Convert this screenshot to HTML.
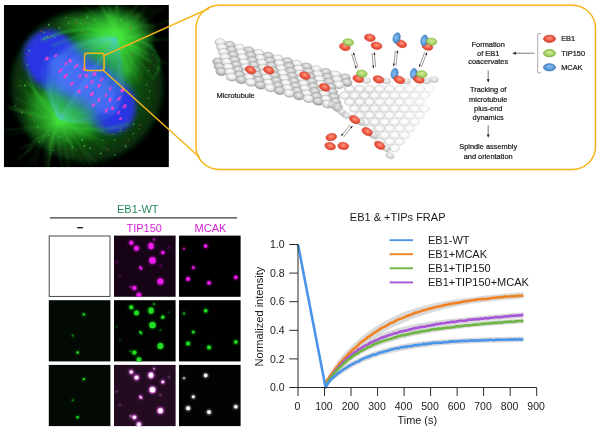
<!DOCTYPE html>
<html><head><meta charset="utf-8"><title>EB1 coacervates figure</title>
<style>
html,body{margin:0;padding:0;background:#fff;}
body{width:600px;height:432px;overflow:hidden;font-family:"Liberation Sans",sans-serif;}
svg{display:block;}
text{font-family:"Liberation Sans",sans-serif;}
</style></head><body>
<svg width="600" height="432" viewBox="0 0 600 432">
<rect width="600" height="432" fill="#fff"/>
<defs>
<clipPath id="cellclip"><rect x="3.8" y="5" width="165.1" height="162.3"/></clipPath>
<filter id="b1" x="-20%" y="-20%" width="140%" height="140%"><feGaussianBlur stdDeviation="0.8"/></filter>
<filter id="b06" x="-20%" y="-20%" width="140%" height="140%"><feGaussianBlur stdDeviation="0.6"/></filter>
<filter id="b2" x="-20%" y="-20%" width="140%" height="140%"><feGaussianBlur stdDeviation="2"/></filter>
<filter id="b3" x="-20%" y="-20%" width="140%" height="140%"><feGaussianBlur stdDeviation="3"/></filter>
<filter id="b5" x="-30%" y="-30%" width="160%" height="160%"><feGaussianBlur stdDeviation="5"/></filter>
<radialGradient id="cellbody" cx="50%" cy="50%" r="50%">
<stop offset="0" stop-color="#116a16"/><stop offset="0.5" stop-color="#0e5a13"/><stop offset="0.78" stop-color="#0a400d"/><stop offset="0.93" stop-color="#082e0a"/><stop offset="1" stop-color="#051c06"/></radialGradient>
<radialGradient id="pole" cx="50%" cy="50%" r="50%">
<stop offset="0" stop-color="#62fa4e" stop-opacity="1"/><stop offset="0.3" stop-color="#36dc30" stop-opacity="0.9"/><stop offset="0.65" stop-color="#22b422" stop-opacity="0.5"/><stop offset="1" stop-color="#149014" stop-opacity="0"/></radialGradient>
<radialGradient id="poleA" cx="50%" cy="50%" r="50%">
<stop offset="0" stop-color="#5af048" stop-opacity="1"/><stop offset="0.25" stop-color="#44dc3a" stop-opacity="0.95"/><stop offset="0.55" stop-color="#30bc30" stop-opacity="0.8"/><stop offset="0.8" stop-color="#229c26" stop-opacity="0.45"/><stop offset="1" stop-color="#148414" stop-opacity="0"/></radialGradient>
<radialGradient id="poleB" cx="50%" cy="50%" r="50%">
<stop offset="0" stop-color="#4ce03e" stop-opacity="0.95"/><stop offset="0.3" stop-color="#34c030" stop-opacity="0.8"/><stop offset="0.65" stop-color="#24a024" stop-opacity="0.45"/><stop offset="1" stop-color="#148414" stop-opacity="0"/></radialGradient>
<linearGradient id="spin" x1="0" y1="0" x2="0" y2="1">
<stop offset="0" stop-color="#30d830" stop-opacity="0.9"/><stop offset="0.18" stop-color="#2cc850" stop-opacity="0.6"/><stop offset="0.33" stop-color="#4090f0" stop-opacity="0.32"/><stop offset="0.5" stop-color="#4c84ff" stop-opacity="0.3"/><stop offset="0.67" stop-color="#4090f0" stop-opacity="0.32"/><stop offset="0.82" stop-color="#2cc850" stop-opacity="0.6"/><stop offset="1" stop-color="#30d830" stop-opacity="0.9"/></linearGradient>
</defs>
<g clip-path="url(#cellclip)">
<rect x="3.8" y="5" width="165.1" height="162.3" fill="#000"/>
<circle cx="87" cy="86" r="77" fill="url(#cellbody)" filter="url(#b2)"/>
<g transform="translate(82 83) rotate(38)" filter="url(#b3)">
<rect x="-62" y="-27" width="122" height="55" rx="26" fill="#2c38de"/>
<ellipse cx="-42" cy="-1" rx="25" ry="26" fill="#2c36e4"/>
<ellipse cx="41" cy="3" rx="21" ry="22" fill="#2c36e4"/>
</g>
<g transform="translate(88.0 78.5) rotate(38)" filter="url(#b3)">
<path d="M0 -52 C22 -40 40 -16 40 0 C40 16 22 40 0 52 C-22 40 -38 16 -38 0 C-38 -16 -22 -40 0 -52 Z" fill="url(#spin)"/>
</g>
<g transform="translate(82 83) rotate(38)" filter="url(#b3)" opacity="0.75"><ellipse cx="-46" cy="-2" rx="20" ry="22" fill="#2c36e4"/><ellipse cx="45" cy="3" rx="17" ry="19" fill="#2c36e4"/></g>
<ellipse cx="84" cy="83" rx="42" ry="17" transform="rotate(38 82 83)" fill="#5878ff" fill-opacity="0.55" filter="url(#b3)"/>
<g filter="url(#b3)"><ellipse cx="127" cy="64" rx="20" ry="30" fill="url(#poleB)" opacity="0.75"/><ellipse cx="42" cy="104" rx="20" ry="24" fill="url(#poleB)" opacity="0.6"/><ellipse cx="84" cy="128" rx="26" ry="14" fill="url(#poleB)" opacity="0.6"/><ellipse cx="80" cy="24" rx="30" ry="12" fill="url(#poleB)" opacity="0.6"/></g>
<g filter="url(#b2)">
<ellipse cx="113" cy="37" rx="44" ry="34" fill="url(#poleA)"/>
<ellipse cx="61" cy="120" rx="40" ry="30" fill="url(#poleB)"/>
</g>
<g filter="url(#b1)" stroke-linecap="round" fill="none">
<path d="M117 37 Q6.1 32.9 59 120" stroke="#38d8b0" stroke-opacity="0.30" stroke-width="0.8"/>
<path d="M117 37 Q12.4 37.8 59 120" stroke="#40c8e0" stroke-opacity="0.29" stroke-width="0.8"/>
<path d="M117 37 Q16.1 40.7 59 120" stroke="#40c8e0" stroke-opacity="0.22" stroke-width="1.1"/>
<path d="M117 37 Q20.0 43.8 59 120" stroke="#60c8ff" stroke-opacity="0.31" stroke-width="1.5"/>
<path d="M117 37 Q24.4 47.2 59 120" stroke="#38d8b0" stroke-opacity="0.36" stroke-width="1.3"/>
<path d="M117 37 Q28.9 50.7 59 120" stroke="#60c8ff" stroke-opacity="0.30" stroke-width="1.6"/>
<path d="M117 37 Q33.6 54.4 59 120" stroke="#38d8b0" stroke-opacity="0.27" stroke-width="0.9"/>
<path d="M117 37 Q38.5 58.2 59 120" stroke="#50a8f8" stroke-opacity="0.34" stroke-width="1.3"/>
<path d="M117 37 Q43.2 61.9 59 120" stroke="#60c8ff" stroke-opacity="0.36" stroke-width="1.1"/>
<path d="M117 37 Q49.4 66.7 59 120" stroke="#40c8e0" stroke-opacity="0.34" stroke-width="1.3"/>
<path d="M117 37 Q53.9 70.3 59 120" stroke="#60c8ff" stroke-opacity="0.31" stroke-width="1.1"/>
<path d="M117 37 Q58.9 74.2 59 120" stroke="#58b8ff" stroke-opacity="0.29" stroke-width="1.0"/>
<path d="M117 37 Q62.4 76.9 59 120" stroke="#38d8b0" stroke-opacity="0.22" stroke-width="1.0"/>
<path d="M117 37 Q68.1 81.3 59 120" stroke="#50a8f8" stroke-opacity="0.38" stroke-width="1.0"/>
<path d="M117 37 Q74.4 86.2 59 120" stroke="#40c8e0" stroke-opacity="0.33" stroke-width="0.9"/>
<path d="M117 37 Q77.1 88.3 59 120" stroke="#58b8ff" stroke-opacity="0.31" stroke-width="1.6"/>
<path d="M117 37 Q81.0 91.4 59 120" stroke="#60c8ff" stroke-opacity="0.34" stroke-width="1.5"/>
<path d="M117 37 Q86.4 95.7 59 120" stroke="#50a8f8" stroke-opacity="0.35" stroke-width="1.3"/>
<path d="M117 37 Q91.6 99.7 59 120" stroke="#40c8e0" stroke-opacity="0.44" stroke-width="1.2"/>
<path d="M117 37 Q97.0 103.9 59 120" stroke="#40c8e0" stroke-opacity="0.38" stroke-width="1.0"/>
<path d="M117 37 Q101.5 107.4 59 120" stroke="#58b8ff" stroke-opacity="0.27" stroke-width="1.1"/>
<path d="M117 37 Q106.5 111.3 59 120" stroke="#40c8e0" stroke-opacity="0.44" stroke-width="1.1"/>
<path d="M117 37 Q111.0 114.9 59 120" stroke="#58b8ff" stroke-opacity="0.21" stroke-width="1.4"/>
<path d="M117 37 Q114.2 117.4 59 120" stroke="#38d8b0" stroke-opacity="0.30" stroke-width="1.5"/>
<path d="M117 37 Q120.1 122.0 59 120" stroke="#38d8b0" stroke-opacity="0.31" stroke-width="1.2"/>
<path d="M117 37 Q126.1 126.6 59 120" stroke="#58b8ff" stroke-opacity="0.42" stroke-width="1.0"/>
<path d="M117 37 Q129.3 129.2 59 120" stroke="#50a8f8" stroke-opacity="0.37" stroke-width="1.1"/>
<path d="M117 37 Q133.5 132.4 59 120" stroke="#40c8e0" stroke-opacity="0.24" stroke-width="1.0"/>
<path d="M117 37 Q138.2 136.1 59 120" stroke="#58b8ff" stroke-opacity="0.41" stroke-width="0.9"/>
<path d="M117 37 Q143.1 139.9 59 120" stroke="#38d8b0" stroke-opacity="0.30" stroke-width="1.1"/>
</g>
<g filter="url(#b1)" stroke-linecap="round" fill="none">
<path d="M117 37 Q141.9 23.7 164.3 6.6" stroke="#48e840" stroke-opacity="0.29" stroke-width="0.9"/>
<path d="M117 37 Q128.3 41.0 139.0 35.4" stroke="#48e840" stroke-opacity="0.36" stroke-width="1.0"/>
<path d="M117 37 Q133.0 44.0 148.0 53.1" stroke="#48e840" stroke-opacity="0.18" stroke-width="0.9"/>
<path d="M117 37 Q105.2 37.2 95.3 30.7" stroke="#48e840" stroke-opacity="0.19" stroke-width="0.8"/>
<path d="M117 37 Q106.3 38.7 97.6 32.3" stroke="#48e840" stroke-opacity="0.18" stroke-width="0.8"/>
<path d="M117 37 Q90.7 32.6 64.1 30.9" stroke="#48e840" stroke-opacity="0.19" stroke-width="0.7"/>
<path d="M117 37 Q112.6 20.1 117.2 3.2" stroke="#48e840" stroke-opacity="0.38" stroke-width="1.1"/>
<path d="M117 37 Q122.7 18.0 136.9 4.2" stroke="#48e840" stroke-opacity="0.18" stroke-width="0.8"/>
<path d="M117 37 Q103.9 14.5 98.4 -11.0" stroke="#48e840" stroke-opacity="0.16" stroke-width="1.1"/>
<path d="M117 37 Q126.8 28.7 135.8 19.7" stroke="#48e840" stroke-opacity="0.16" stroke-width="0.9"/>
<path d="M117 37 Q121.8 63.1 131.2 87.9" stroke="#48e840" stroke-opacity="0.22" stroke-width="0.8"/>
<path d="M117 37 Q99.4 19.8 81.2 3.1" stroke="#48e840" stroke-opacity="0.36" stroke-width="0.8"/>
<path d="M117 37 Q108.5 12.4 90.1 -6.1" stroke="#48e840" stroke-opacity="0.38" stroke-width="1.0"/>
<path d="M117 37 Q139.0 47.3 157.5 63.0" stroke="#48e840" stroke-opacity="0.29" stroke-width="0.8"/>
<path d="M117 37 Q106.2 38.2 96.1 34.2" stroke="#48e840" stroke-opacity="0.22" stroke-width="0.9"/>
<path d="M117 37 Q118.8 56.1 130.4 71.5" stroke="#48e840" stroke-opacity="0.42" stroke-width="1.1"/>
<path d="M117 37 Q114.9 22.6 119.4 8.7" stroke="#48e840" stroke-opacity="0.20" stroke-width="0.7"/>
<path d="M117 37 Q144.1 32.6 168.6 20.5" stroke="#48e840" stroke-opacity="0.28" stroke-width="0.9"/>
<path d="M117 37 Q126.4 44.1 137.5 47.9" stroke="#48e840" stroke-opacity="0.40" stroke-width="1.0"/>
<path d="M117 37 Q136.4 38.2 153.9 46.9" stroke="#48e840" stroke-opacity="0.36" stroke-width="0.8"/>
<path d="M117 37 Q142.7 49.4 167.2 63.9" stroke="#48e840" stroke-opacity="0.26" stroke-width="1.1"/>
<path d="M117 37 Q130.7 34.5 143.2 40.9" stroke="#48e840" stroke-opacity="0.19" stroke-width="1.1"/>
<path d="M117 37 Q126.2 46.7 139.2 49.7" stroke="#48e840" stroke-opacity="0.41" stroke-width="0.9"/>
<path d="M117 37 Q113.0 16.5 117.8 -3.8" stroke="#48e840" stroke-opacity="0.15" stroke-width="1.1"/>
<path d="M117 37 Q137.6 38.3 156.3 29.3" stroke="#48e840" stroke-opacity="0.27" stroke-width="1.0"/>
<path d="M117 37 Q130.2 42.6 140.0 53.0" stroke="#48e840" stroke-opacity="0.23" stroke-width="0.7"/>
<path d="M117 37 Q129.8 29.2 143.5 23.2" stroke="#48e840" stroke-opacity="0.19" stroke-width="1.1"/>
<path d="M117 37 Q118.6 18.3 118.3 -0.4" stroke="#48e840" stroke-opacity="0.39" stroke-width="0.8"/>
<path d="M117 37 Q126.8 53.9 137.3 70.3" stroke="#48e840" stroke-opacity="0.29" stroke-width="0.6"/>
<path d="M117 37 Q117.2 22.3 128.2 12.5" stroke="#48e840" stroke-opacity="0.37" stroke-width="0.7"/>
<path d="M117 37 Q130.6 17.5 143.0 -2.8" stroke="#48e840" stroke-opacity="0.24" stroke-width="0.9"/>
<path d="M117 37 Q134.5 18.7 157.5 8.0" stroke="#48e840" stroke-opacity="0.30" stroke-width="0.7"/>
<path d="M117 37 Q109.5 13.5 101.7 -9.9" stroke="#48e840" stroke-opacity="0.30" stroke-width="1.0"/>
<path d="M117 37 Q125.8 53.2 136.9 68.0" stroke="#48e840" stroke-opacity="0.29" stroke-width="0.9"/>
<path d="M117 37 Q135.6 37.4 154.2 37.1" stroke="#48e840" stroke-opacity="0.28" stroke-width="1.1"/>
<path d="M117 37 Q143.5 43.1 170.3 38.7" stroke="#48e840" stroke-opacity="0.22" stroke-width="0.9"/>
<path d="M117 37 Q131.8 58.8 138.7 84.2" stroke="#48e840" stroke-opacity="0.18" stroke-width="0.8"/>
<path d="M117 37 Q101.6 37.1 89.4 27.6" stroke="#48e840" stroke-opacity="0.33" stroke-width="1.0"/>
<path d="M117 37 Q122.7 48.9 132.5 57.7" stroke="#48e840" stroke-opacity="0.33" stroke-width="0.7"/>
<path d="M117 37 Q138.0 56.4 153.8 80.2" stroke="#48e840" stroke-opacity="0.41" stroke-width="0.8"/>
<path d="M117 37 Q137.4 16.3 151.4 -9.2" stroke="#48e840" stroke-opacity="0.19" stroke-width="0.8"/>
<path d="M117 37 Q125.8 22.6 139.9 13.4" stroke="#48e840" stroke-opacity="0.24" stroke-width="1.0"/>
<path d="M117 37 Q96.5 35.9 76.1 33.4" stroke="#48e840" stroke-opacity="0.15" stroke-width="0.8"/>
<path d="M117 37 Q134.2 26.0 154.6 24.9" stroke="#48e840" stroke-opacity="0.42" stroke-width="1.0"/>
<path d="M117 37 Q123.3 47.6 124.2 59.9" stroke="#48e840" stroke-opacity="0.16" stroke-width="1.0"/>
<path d="M117 37 Q111.9 25.6 108.6 13.5" stroke="#48e840" stroke-opacity="0.40" stroke-width="1.0"/>
<path d="M117 37 Q116.7 23.2 107.1 13.3" stroke="#48e840" stroke-opacity="0.30" stroke-width="1.0"/>
<path d="M117 37 Q107.7 30.5 96.6 28.2" stroke="#48e840" stroke-opacity="0.26" stroke-width="0.6"/>
<path d="M117 37 Q123.4 58.4 136.4 76.6" stroke="#48e840" stroke-opacity="0.17" stroke-width="1.0"/>
<path d="M117 37 Q91.6 29.7 66.6 21.3" stroke="#48e840" stroke-opacity="0.24" stroke-width="0.9"/>
<path d="M117 37 Q128.2 48.0 131.7 63.4" stroke="#48e840" stroke-opacity="0.29" stroke-width="0.7"/>
<path d="M117 37 Q102.9 35.5 94.0 24.5" stroke="#48e840" stroke-opacity="0.20" stroke-width="0.8"/>
<path d="M117 37 Q110.0 13.5 107.9 -11.0" stroke="#48e840" stroke-opacity="0.29" stroke-width="0.7"/>
<path d="M117 37 Q114.0 26.6 117.1 16.3" stroke="#48e840" stroke-opacity="0.15" stroke-width="1.0"/>
<path d="M117 37 Q127.7 28.6 138.8 20.7" stroke="#48e840" stroke-opacity="0.40" stroke-width="0.7"/>
<path d="M117 37 Q132.3 46.8 147.6 56.8" stroke="#48e840" stroke-opacity="0.38" stroke-width="0.8"/>
<path d="M117 37 Q136.7 23.6 147.7 2.6" stroke="#48e840" stroke-opacity="0.24" stroke-width="1.0"/>
<path d="M117 37 Q139.1 37.3 161.1 39.9" stroke="#48e840" stroke-opacity="0.24" stroke-width="0.6"/>
<path d="M117 37 Q109.2 28.3 98.1 24.4" stroke="#48e840" stroke-opacity="0.22" stroke-width="0.7"/>
<path d="M117 37 Q94.6 23.2 68.8 17.6" stroke="#48e840" stroke-opacity="0.33" stroke-width="0.7"/>
<path d="M117 37 Q109.5 23.4 102.9 9.3" stroke="#48e840" stroke-opacity="0.19" stroke-width="0.8"/>
<path d="M117 37 Q111.9 8.6 96.2 -15.6" stroke="#48e840" stroke-opacity="0.30" stroke-width="0.7"/>
<path d="M117 37 Q123.8 51.5 127.3 67.0" stroke="#48e840" stroke-opacity="0.15" stroke-width="0.8"/>
<path d="M117 37 Q124.8 18.7 138.5 4.4" stroke="#48e840" stroke-opacity="0.29" stroke-width="0.6"/>
<path d="M117 37 Q111.6 26.5 108.5 15.2" stroke="#48e840" stroke-opacity="0.16" stroke-width="0.6"/>
<path d="M117 37 Q115.3 22.6 111.5 8.7" stroke="#48e840" stroke-opacity="0.29" stroke-width="1.0"/>
<path d="M117 37 Q141.0 37.8 163.6 29.6" stroke="#48e840" stroke-opacity="0.26" stroke-width="0.8"/>
<path d="M117 37 Q117.5 50.1 123.2 61.9" stroke="#48e840" stroke-opacity="0.32" stroke-width="0.6"/>
<path d="M117 37 Q137.5 54.5 159.9 69.6" stroke="#48e840" stroke-opacity="0.35" stroke-width="1.0"/>
<path d="M117 37 Q100.9 25.2 84.8 13.4" stroke="#48e840" stroke-opacity="0.38" stroke-width="1.0"/>
<path d="M117 37 Q131.6 52.9 151.6 61.1" stroke="#48e840" stroke-opacity="0.33" stroke-width="0.9"/>
<path d="M117 37 Q107.9 30.1 106.3 18.7" stroke="#48e840" stroke-opacity="0.25" stroke-width="0.7"/>
<path d="M117 37 Q132.5 50.7 149.8 62.0" stroke="#48e840" stroke-opacity="0.32" stroke-width="0.9"/>
<path d="M117 37 Q125.9 31.1 129.2 21.0" stroke="#48e840" stroke-opacity="0.35" stroke-width="0.9"/>
<path d="M117 37 Q130.6 18.3 151.1 7.5" stroke="#48e840" stroke-opacity="0.35" stroke-width="0.7"/>
<path d="M117 37 Q103.7 29.4 88.6 27.0" stroke="#48e840" stroke-opacity="0.21" stroke-width="1.0"/>
<path d="M117 37 Q123.8 55.2 127.9 74.2" stroke="#48e840" stroke-opacity="0.28" stroke-width="0.9"/>
<path d="M117 37 Q136.9 45.8 158.0 51.4" stroke="#48e840" stroke-opacity="0.17" stroke-width="0.7"/>
<path d="M117 37 Q105.1 15.9 97.4 -7.1" stroke="#48e840" stroke-opacity="0.30" stroke-width="0.6"/>
<path d="M117 37 Q103.0 30.9 87.9 28.8" stroke="#48e840" stroke-opacity="0.34" stroke-width="0.9"/>
<path d="M59 120 Q64.3 139.1 68.8 158.4" stroke="#48e840" stroke-opacity="0.28" stroke-width="0.7"/>
<path d="M59 120 Q55.1 105.6 42.2 98.2" stroke="#48e840" stroke-opacity="0.40" stroke-width="0.6"/>
<path d="M59 120 Q41.6 139.5 33.9 164.6" stroke="#48e840" stroke-opacity="0.27" stroke-width="0.7"/>
<path d="M59 120 Q78.0 140.8 91.4 165.6" stroke="#48e840" stroke-opacity="0.31" stroke-width="0.7"/>
<path d="M59 120 Q41.7 142.6 18.4 158.9" stroke="#48e840" stroke-opacity="0.37" stroke-width="0.9"/>
<path d="M59 120 Q41.7 104.0 29.3 83.9" stroke="#48e840" stroke-opacity="0.39" stroke-width="0.8"/>
<path d="M59 120 Q69.0 121.0 79.0 122.3" stroke="#48e840" stroke-opacity="0.27" stroke-width="0.8"/>
<path d="M59 120 Q73.6 128.1 85.6 139.7" stroke="#48e840" stroke-opacity="0.38" stroke-width="0.6"/>
<path d="M59 120 Q32.8 117.6 8.9 106.4" stroke="#48e840" stroke-opacity="0.40" stroke-width="1.0"/>
<path d="M59 120 Q48.7 108.3 40.9 94.8" stroke="#48e840" stroke-opacity="0.26" stroke-width="1.1"/>
<path d="M59 120 Q44.3 128.4 28.9 135.2" stroke="#48e840" stroke-opacity="0.22" stroke-width="0.6"/>
<path d="M59 120 Q83.3 129.2 105.3 143.0" stroke="#48e840" stroke-opacity="0.40" stroke-width="0.7"/>
<path d="M59 120 Q69.5 137.1 73.1 156.8" stroke="#48e840" stroke-opacity="0.25" stroke-width="1.1"/>
<path d="M59 120 Q43.8 99.5 26.2 81.1" stroke="#48e840" stroke-opacity="0.40" stroke-width="1.1"/>
<path d="M59 120 Q43.4 138.6 21.3 148.6" stroke="#48e840" stroke-opacity="0.35" stroke-width="0.8"/>
<path d="M59 120 Q36.9 116.5 16.2 108.0" stroke="#48e840" stroke-opacity="0.16" stroke-width="1.1"/>
<path d="M59 120 Q75.9 128.8 90.8 140.7" stroke="#48e840" stroke-opacity="0.23" stroke-width="1.0"/>
<path d="M59 120 Q56.6 105.1 50.7 91.3" stroke="#48e840" stroke-opacity="0.23" stroke-width="0.9"/>
<path d="M59 120 Q60.1 133.7 53.3 145.7" stroke="#48e840" stroke-opacity="0.21" stroke-width="1.1"/>
<path d="M59 120 Q46.3 127.9 41.1 142.0" stroke="#48e840" stroke-opacity="0.42" stroke-width="0.8"/>
<path d="M59 120 Q72.9 124.1 81.0 136.2" stroke="#48e840" stroke-opacity="0.24" stroke-width="0.6"/>
<path d="M59 120 Q65.2 133.6 72.9 146.4" stroke="#48e840" stroke-opacity="0.39" stroke-width="1.0"/>
<path d="M59 120 Q53.4 137.0 48.4 154.1" stroke="#48e840" stroke-opacity="0.25" stroke-width="0.8"/>
<path d="M59 120 Q72.1 129.6 88.3 128.5" stroke="#48e840" stroke-opacity="0.18" stroke-width="0.9"/>
<path d="M59 120 Q34.6 130.7 8.3 134.8" stroke="#48e840" stroke-opacity="0.22" stroke-width="0.7"/>
<path d="M59 120 Q49.3 136.6 50.1 155.9" stroke="#48e840" stroke-opacity="0.38" stroke-width="1.0"/>
<path d="M59 120 Q69.3 123.6 80.1 122.1" stroke="#48e840" stroke-opacity="0.39" stroke-width="0.8"/>
<path d="M59 120 Q50.7 125.7 41.2 129.2" stroke="#48e840" stroke-opacity="0.40" stroke-width="1.0"/>
<path d="M59 120 Q35.9 103.0 17.0 81.6" stroke="#48e840" stroke-opacity="0.18" stroke-width="0.7"/>
<path d="M59 120 Q38.8 132.2 26.1 152.0" stroke="#48e840" stroke-opacity="0.34" stroke-width="0.9"/>
<path d="M59 120 Q41.5 113.4 23.6 107.9" stroke="#48e840" stroke-opacity="0.16" stroke-width="1.0"/>
<path d="M59 120 Q71.0 144.8 86.1 167.8" stroke="#48e840" stroke-opacity="0.23" stroke-width="0.7"/>
<path d="M59 120 Q66.0 141.1 77.3 160.2" stroke="#48e840" stroke-opacity="0.18" stroke-width="0.6"/>
<path d="M59 120 Q44.7 135.5 28.5 149.1" stroke="#48e840" stroke-opacity="0.21" stroke-width="0.9"/>
<path d="M59 120 Q74.7 120.3 90.4 121.5" stroke="#48e840" stroke-opacity="0.41" stroke-width="0.9"/>
<path d="M59 120 Q44.3 107.5 34.4 90.9" stroke="#48e840" stroke-opacity="0.22" stroke-width="1.1"/>
<path d="M59 120 Q42.9 124.8 27.4 118.2" stroke="#48e840" stroke-opacity="0.28" stroke-width="0.9"/>
<path d="M59 120 Q52.2 133.4 49.2 148.1" stroke="#48e840" stroke-opacity="0.40" stroke-width="0.7"/>
<path d="M59 120 Q75.4 121.6 91.5 125.1" stroke="#48e840" stroke-opacity="0.33" stroke-width="0.7"/>
<path d="M59 120 Q37.6 108.9 16.2 98.0" stroke="#48e840" stroke-opacity="0.21" stroke-width="1.1"/>
<path d="M59 120 Q66.2 144.8 67.0 170.5" stroke="#48e840" stroke-opacity="0.21" stroke-width="1.0"/>
<path d="M59 120 Q65.5 147.3 71.9 174.7" stroke="#48e840" stroke-opacity="0.20" stroke-width="0.7"/>
<path d="M59 120 Q46.7 139.8 44.7 163.0" stroke="#48e840" stroke-opacity="0.19" stroke-width="0.8"/>
<path d="M59 120 Q78.7 141.0 91.4 166.9" stroke="#48e840" stroke-opacity="0.16" stroke-width="0.6"/>
<path d="M59 120 Q48.8 145.5 47.5 172.9" stroke="#48e840" stroke-opacity="0.35" stroke-width="1.1"/>
<path d="M59 120 Q48.1 107.4 43.8 91.2" stroke="#48e840" stroke-opacity="0.40" stroke-width="1.0"/>
<path d="M59 120 Q81.6 121.8 103.8 126.5" stroke="#48e840" stroke-opacity="0.25" stroke-width="0.8"/>
<path d="M59 120 Q68.1 125.1 73.5 134.0" stroke="#48e840" stroke-opacity="0.24" stroke-width="1.1"/>
<path d="M59 120 Q84.8 132.1 106.9 150.2" stroke="#48e840" stroke-opacity="0.25" stroke-width="1.0"/>
<path d="M59 120 Q40.8 114.4 28.7 99.8" stroke="#48e840" stroke-opacity="0.28" stroke-width="0.8"/>
<path d="M59 120 Q50.6 109.1 45.0 96.6" stroke="#48e840" stroke-opacity="0.39" stroke-width="0.6"/>
<path d="M59 120 Q48.6 143.4 44.3 168.7" stroke="#48e840" stroke-opacity="0.16" stroke-width="0.6"/>
<path d="M59 120 Q86.2 124.9 111.8 135.4" stroke="#48e840" stroke-opacity="0.35" stroke-width="1.0"/>
<path d="M59 120 Q54.0 135.3 60.0 150.3" stroke="#48e840" stroke-opacity="0.32" stroke-width="0.7"/>
<path d="M59 120 Q42.8 120.9 27.2 116.5" stroke="#48e840" stroke-opacity="0.15" stroke-width="1.0"/>
<path d="M59 120 Q51.9 98.5 35.8 82.5" stroke="#48e840" stroke-opacity="0.16" stroke-width="0.7"/>
<path d="M59 120 Q38.9 140.5 27.9 167.0" stroke="#48e840" stroke-opacity="0.25" stroke-width="0.7"/>
<path d="M59 120 Q47.0 136.1 44.6 156.0" stroke="#48e840" stroke-opacity="0.20" stroke-width="1.0"/>
<path d="M59 120 Q34.6 111.5 8.9 109.3" stroke="#48e840" stroke-opacity="0.31" stroke-width="0.8"/>
<path d="M59 120 Q57.7 137.2 63.1 153.5" stroke="#48e840" stroke-opacity="0.17" stroke-width="0.7"/>
<path d="M59 120 Q43.4 121.0 30.7 112.0" stroke="#48e840" stroke-opacity="0.16" stroke-width="0.9"/>
<path d="M59 120 Q57.1 148.9 64.3 177.0" stroke="#48e840" stroke-opacity="0.42" stroke-width="0.7"/>
<path d="M59 120 Q70.0 124.4 81.0 128.8" stroke="#48e840" stroke-opacity="0.34" stroke-width="0.8"/>
<path d="M59 120 Q66.5 136.4 76.4 151.3" stroke="#48e840" stroke-opacity="0.33" stroke-width="1.0"/>
<path d="M59 120 Q38.8 108.9 24.4 90.8" stroke="#48e840" stroke-opacity="0.38" stroke-width="0.7"/>
<path d="M59 120 Q43.1 126.8 30.2 138.4" stroke="#48e840" stroke-opacity="0.20" stroke-width="0.7"/>
<path d="M59 120 Q60.6 133.6 70.4 143.2" stroke="#48e840" stroke-opacity="0.31" stroke-width="0.8"/>
<path d="M59 120 Q52.4 148.1 46.0 176.2" stroke="#48e840" stroke-opacity="0.21" stroke-width="1.0"/>
<path d="M59 120 Q31.5 129.8 2.2 130.1" stroke="#48e840" stroke-opacity="0.28" stroke-width="1.0"/>
<path d="M59 120 Q34.2 107.3 16.2 85.9" stroke="#48e840" stroke-opacity="0.23" stroke-width="0.7"/>
<path d="M59 120 Q76.8 142.2 96.2 163.2" stroke="#48e840" stroke-opacity="0.40" stroke-width="0.8"/>
<path d="M59 120 Q43.9 108.9 32.9 93.7" stroke="#48e840" stroke-opacity="0.36" stroke-width="1.1"/>
<path d="M59 120 Q77.3 131.1 96.8 139.7" stroke="#48e840" stroke-opacity="0.21" stroke-width="0.8"/>
<path d="M59 120 Q71.9 125.9 81.2 136.6" stroke="#48e840" stroke-opacity="0.31" stroke-width="0.9"/>
<path d="M59 120 Q66.8 126.9 71.3 136.3" stroke="#48e840" stroke-opacity="0.33" stroke-width="0.7"/>
<path d="M59 120 Q57.6 134.2 63.3 147.4" stroke="#48e840" stroke-opacity="0.30" stroke-width="0.6"/>
<path d="M59 120 Q74.4 128.3 90.4 135.6" stroke="#48e840" stroke-opacity="0.32" stroke-width="0.6"/>
<path d="M59 120 Q76.8 134.9 93.2 151.4" stroke="#48e840" stroke-opacity="0.23" stroke-width="0.8"/>
<path d="M59 120 Q53.7 104.9 47.0 90.5" stroke="#48e840" stroke-opacity="0.25" stroke-width="0.8"/>
<path d="M59 120 Q37.3 100.8 17.9 79.3" stroke="#48e840" stroke-opacity="0.20" stroke-width="1.0"/>
<path d="M126 40 Q150 38 158 58 Q161 68 155 76" stroke="#30d030" stroke-opacity="0.6" stroke-width="1.1"/>
<path d="M112 34 Q80 22 42 40" stroke="#30d838" stroke-opacity="0.5" stroke-width="2"/>
<path d="M112 36 Q84 30 52 46" stroke="#30d868" stroke-opacity="0.4" stroke-width="1.6"/>
<path d="M60 122 Q92 136 128 124" stroke="#30d838" stroke-opacity="0.35" stroke-width="2"/>
<path d="M52 112 Q34 96 28 70" stroke="#30d838" stroke-opacity="0.35" stroke-width="1.6"/>
</g>
<g filter="url(#b06)">
<ellipse cx="46.9" cy="58.5" rx="1.6" ry="2.2" transform="rotate(46 46.9 58.5)" fill="#ff40cc" fill-opacity="0.79"/>
<ellipse cx="55.8" cy="55.8" rx="1.1" ry="1.6" transform="rotate(39 55.8 55.8)" fill="#ff40cc" fill-opacity="0.87"/>
<ellipse cx="66.0" cy="63.6" rx="1.4" ry="2.1" transform="rotate(38 66.0 63.6)" fill="#ff40cc" fill-opacity="0.70"/>
<ellipse cx="70.2" cy="60.8" rx="1.6" ry="1.8" transform="rotate(37 70.2 60.8)" fill="#ff40cc" fill-opacity="0.93"/>
<ellipse cx="76.3" cy="65.9" rx="1.1" ry="2.9" transform="rotate(49 76.3 65.9)" fill="#ff40cc" fill-opacity="0.82"/>
<ellipse cx="65.5" cy="76.2" rx="1.3" ry="2.9" transform="rotate(41 65.5 76.2)" fill="#ff40cc" fill-opacity="0.94"/>
<ellipse cx="71.9" cy="83.9" rx="1.2" ry="2.2" transform="rotate(46 71.9 83.9)" fill="#ff40cc" fill-opacity="0.94"/>
<ellipse cx="80.1" cy="76.1" rx="1.3" ry="2.3" transform="rotate(35 80.1 76.1)" fill="#ff40cc" fill-opacity="0.69"/>
<ellipse cx="86.3" cy="75.6" rx="1.6" ry="1.7" transform="rotate(39 86.3 75.6)" fill="#ff40cc" fill-opacity="0.92"/>
<ellipse cx="91.8" cy="82.0" rx="1.1" ry="2.4" transform="rotate(39 91.8 82.0)" fill="#ff40cc" fill-opacity="0.87"/>
<ellipse cx="86.5" cy="86.8" rx="1.4" ry="2.2" transform="rotate(41 86.5 86.8)" fill="#ff40cc" fill-opacity="0.81"/>
<ellipse cx="99.0" cy="85.6" rx="1.4" ry="2.3" transform="rotate(31 99.0 85.6)" fill="#ff40cc" fill-opacity="0.92"/>
<ellipse cx="106.1" cy="95.1" rx="1.1" ry="2.3" transform="rotate(28 106.1 95.1)" fill="#ff40cc" fill-opacity="0.69"/>
<ellipse cx="99.0" cy="100.0" rx="1.3" ry="2.3" transform="rotate(26 99.0 100.0)" fill="#ff40cc" fill-opacity="0.87"/>
<ellipse cx="110.1" cy="99.9" rx="1.5" ry="2.3" transform="rotate(26 110.1 99.9)" fill="#ff40cc" fill-opacity="0.83"/>
<ellipse cx="119.1" cy="98.6" rx="1.1" ry="2.8" transform="rotate(50 119.1 98.6)" fill="#ff40cc" fill-opacity="0.91"/>
<ellipse cx="122.5" cy="90.2" rx="1.7" ry="2.3" transform="rotate(49 122.5 90.2)" fill="#ff40cc" fill-opacity="0.97"/>
<ellipse cx="112.4" cy="108.2" rx="1.7" ry="1.7" transform="rotate(34 112.4 108.2)" fill="#ff40cc" fill-opacity="0.91"/>
<ellipse cx="106.3" cy="110.5" rx="1.2" ry="2.7" transform="rotate(29 106.3 110.5)" fill="#ff40cc" fill-opacity="0.83"/>
<ellipse cx="118.7" cy="112.5" rx="1.2" ry="2.3" transform="rotate(33 118.7 112.5)" fill="#ff40cc" fill-opacity="0.66"/>
<ellipse cx="124.6" cy="106.3" rx="1.7" ry="2.6" transform="rotate(47 124.6 106.3)" fill="#ff40cc" fill-opacity="0.71"/>
<ellipse cx="92.0" cy="94.0" rx="1.4" ry="2.5" transform="rotate(34 92.0 94.0)" fill="#ff40cc" fill-opacity="0.96"/>
<ellipse cx="79.1" cy="91.4" rx="1.6" ry="1.7" transform="rotate(50 79.1 91.4)" fill="#ff40cc" fill-opacity="0.87"/>
<ellipse cx="60.4" cy="70.6" rx="1.2" ry="3.0" transform="rotate(39 60.4 70.6)" fill="#ff40cc" fill-opacity="0.78"/>
<ellipse cx="83.8" cy="68.7" rx="1.1" ry="2.6" transform="rotate(26 83.8 68.7)" fill="#ff40cc" fill-opacity="0.94"/>
<ellipse cx="94.4" cy="74.1" rx="1.7" ry="2.4" transform="rotate(42 94.4 74.1)" fill="#ff40cc" fill-opacity="0.76"/>
<ellipse cx="101.8" cy="79.6" rx="1.1" ry="2.5" transform="rotate(36 101.8 79.6)" fill="#ff40cc" fill-opacity="0.83"/>
<ellipse cx="110.5" cy="88.8" rx="1.2" ry="2.5" transform="rotate(26 110.5 88.8)" fill="#ff40cc" fill-opacity="0.65"/>
<ellipse cx="93.5" cy="104.9" rx="1.3" ry="1.9" transform="rotate(40 93.5 104.9)" fill="#ff40cc" fill-opacity="0.86"/>
<ellipse cx="120.6" cy="118.6" rx="1.3" ry="1.8" transform="rotate(48 120.6 118.6)" fill="#ff40cc" fill-opacity="0.74"/>
</g>
<g filter="url(#b06)">
<circle cx="120.1" cy="131.2" r="0.9" fill="#48e848" fill-opacity="0.46"/>
<circle cx="82.2" cy="140.0" r="0.9" fill="#48e848" fill-opacity="0.54"/>
<circle cx="28.3" cy="54.5" r="0.9" fill="#b04830" fill-opacity="0.40"/>
<circle cx="132.1" cy="54.7" r="0.9" fill="#b04830" fill-opacity="0.37"/>
<circle cx="126.5" cy="147.6" r="0.7" fill="#48e848" fill-opacity="0.36"/>
<circle cx="107.8" cy="149.4" r="0.9" fill="#b04830" fill-opacity="0.63"/>
<circle cx="114.6" cy="139.8" r="0.8" fill="#48e848" fill-opacity="0.70"/>
<circle cx="76.7" cy="22.8" r="0.9" fill="#b04830" fill-opacity="0.64"/>
<circle cx="85.1" cy="22.3" r="1.0" fill="#b04830" fill-opacity="0.37"/>
<circle cx="146.5" cy="84.7" r="0.9" fill="#48e848" fill-opacity="0.43"/>
<circle cx="86.9" cy="17.4" r="1.0" fill="#48e848" fill-opacity="0.41"/>
<circle cx="27.4" cy="65.1" r="1.0" fill="#48e848" fill-opacity="0.42"/>
<circle cx="152.6" cy="54.4" r="0.6" fill="#48e848" fill-opacity="0.37"/>
<circle cx="146.2" cy="45.6" r="0.7" fill="#48e848" fill-opacity="0.60"/>
<circle cx="53.3" cy="150.2" r="0.8" fill="#48e848" fill-opacity="0.45"/>
<circle cx="130.8" cy="27.2" r="1.1" fill="#b04830" fill-opacity="0.49"/>
<circle cx="33.9" cy="75.6" r="0.6" fill="#48e848" fill-opacity="0.53"/>
<circle cx="66.3" cy="140.6" r="0.9" fill="#48e848" fill-opacity="0.53"/>
<circle cx="112.9" cy="134.2" r="0.7" fill="#48e848" fill-opacity="0.44"/>
<circle cx="121.3" cy="128.5" r="0.6" fill="#48e848" fill-opacity="0.58"/>
<circle cx="82.4" cy="30.8" r="0.9" fill="#48e848" fill-opacity="0.38"/>
<circle cx="149.6" cy="67.6" r="0.9" fill="#b04830" fill-opacity="0.34"/>
<circle cx="102.5" cy="140.2" r="0.6" fill="#48e848" fill-opacity="0.63"/>
<circle cx="46.3" cy="41.8" r="0.6" fill="#48e848" fill-opacity="0.62"/>
<circle cx="50.5" cy="38.1" r="0.8" fill="#48e848" fill-opacity="0.31"/>
<circle cx="84.5" cy="145.9" r="1.0" fill="#48e848" fill-opacity="0.66"/>
<circle cx="95.0" cy="19.8" r="0.8" fill="#48e848" fill-opacity="0.55"/>
<circle cx="148.5" cy="98.1" r="0.8" fill="#48e848" fill-opacity="0.44"/>
<circle cx="68.6" cy="23.3" r="0.7" fill="#48e848" fill-opacity="0.53"/>
<circle cx="72.4" cy="147.4" r="0.9" fill="#48e848" fill-opacity="0.60"/>
<circle cx="140.6" cy="78.5" r="0.8" fill="#b04830" fill-opacity="0.58"/>
<circle cx="120.9" cy="19.9" r="0.9" fill="#48e848" fill-opacity="0.53"/>
<circle cx="125.5" cy="145.8" r="1.1" fill="#48e848" fill-opacity="0.50"/>
<circle cx="138.9" cy="128.9" r="0.6" fill="#48e848" fill-opacity="0.55"/>
<circle cx="48.5" cy="135.2" r="0.8" fill="#48e848" fill-opacity="0.47"/>
<circle cx="49.4" cy="37.0" r="0.8" fill="#b04830" fill-opacity="0.66"/>
<circle cx="25.0" cy="85.5" r="1.0" fill="#48e848" fill-opacity="0.68"/>
<circle cx="133.4" cy="133.6" r="0.9" fill="#48e848" fill-opacity="0.44"/>
<circle cx="60.5" cy="136.7" r="1.0" fill="#48e848" fill-opacity="0.37"/>
<circle cx="21.9" cy="112.4" r="0.9" fill="#48e848" fill-opacity="0.43"/>
<circle cx="44.2" cy="32.4" r="0.9" fill="#48e848" fill-opacity="0.42"/>
<circle cx="66.2" cy="17.4" r="0.7" fill="#48e848" fill-opacity="0.69"/>
<circle cx="75.8" cy="20.3" r="0.8" fill="#48e848" fill-opacity="0.43"/>
<circle cx="114.7" cy="155.1" r="1.0" fill="#48e848" fill-opacity="0.37"/>
<circle cx="55.2" cy="37.4" r="0.7" fill="#48e848" fill-opacity="0.62"/>
<circle cx="80.4" cy="23.2" r="0.7" fill="#48e848" fill-opacity="0.41"/>
<circle cx="134.9" cy="43.9" r="0.6" fill="#b04830" fill-opacity="0.58"/>
<circle cx="19.7" cy="85.8" r="0.8" fill="#48e848" fill-opacity="0.40"/>
<circle cx="83.0" cy="32.0" r="0.7" fill="#b04830" fill-opacity="0.58"/>
<circle cx="29.4" cy="50.7" r="1.0" fill="#48e848" fill-opacity="0.57"/>
<circle cx="47.0" cy="36.7" r="0.8" fill="#48e848" fill-opacity="0.66"/>
<circle cx="90.0" cy="148.3" r="1.0" fill="#48e848" fill-opacity="0.40"/>
<circle cx="30.6" cy="115.4" r="0.9" fill="#b04830" fill-opacity="0.51"/>
<circle cx="48.7" cy="24.7" r="1.0" fill="#48e848" fill-opacity="0.61"/>
<circle cx="37.8" cy="127.4" r="1.1" fill="#48e848" fill-opacity="0.40"/>
<circle cx="100.8" cy="153.6" r="1.1" fill="#48e848" fill-opacity="0.51"/>
<circle cx="140.2" cy="125.2" r="0.9" fill="#b04830" fill-opacity="0.50"/>
<circle cx="41.2" cy="31.2" r="0.9" fill="#b04830" fill-opacity="0.60"/>
<circle cx="14.9" cy="106.0" r="0.7" fill="#48e848" fill-opacity="0.59"/>
<circle cx="36.2" cy="41.8" r="0.7" fill="#b04830" fill-opacity="0.46"/>
<circle cx="149.6" cy="91.2" r="0.8" fill="#48e848" fill-opacity="0.53"/>
<circle cx="133.7" cy="124.3" r="0.8" fill="#48e848" fill-opacity="0.70"/>
<circle cx="148.8" cy="70.5" r="0.7" fill="#48e848" fill-opacity="0.62"/>
<circle cx="44.6" cy="38.3" r="0.9" fill="#48e848" fill-opacity="0.63"/>
<circle cx="128.2" cy="140.0" r="1.0" fill="#b04830" fill-opacity="0.49"/>
<circle cx="69.0" cy="149.0" r="0.7" fill="#b04830" fill-opacity="0.44"/>
<circle cx="122.2" cy="37.9" r="0.8" fill="#48e848" fill-opacity="0.69"/>
<circle cx="59.3" cy="28.2" r="1.0" fill="#48e848" fill-opacity="0.44"/>
<circle cx="52.7" cy="35.9" r="0.8" fill="#48e848" fill-opacity="0.56"/>
<circle cx="39.3" cy="141.9" r="1.0" fill="#48e848" fill-opacity="0.33"/>
</g>
</g>
<defs>
<filter id="tb" x="-5%" y="-20%" width="110%" height="140%"><feGaussianBlur stdDeviation="0.25"/></filter>
<radialGradient id="gred" cx="50%" cy="42%" r="60%"><stop offset="0" stop-color="#ff9c84"/><stop offset="0.55" stop-color="#f25a44"/><stop offset="1" stop-color="#dc3c2a"/></radialGradient>
<radialGradient id="ggreen" cx="50%" cy="42%" r="60%"><stop offset="0" stop-color="#d2ec9a"/><stop offset="0.6" stop-color="#a8d468"/><stop offset="1" stop-color="#86b848"/></radialGradient>
<radialGradient id="gblue" cx="50%" cy="42%" r="60%"><stop offset="0" stop-color="#8cc0f0"/><stop offset="0.6" stop-color="#5a9ada"/><stop offset="1" stop-color="#3f7cc0"/></radialGradient>
</defs>
<g fill="none" stroke="#f5b417" stroke-width="1.5" stroke-linejoin="round" stroke-linecap="round">
<rect x="84.5" y="53.3" width="19.6" height="17.3" rx="2.5"/>
<path d="M104 55.6 L208.5 8.8"/>
<path d="M103.2 70.3 L199.3 157"/>
<rect x="196" y="5.2" width="399.5" height="164.2" rx="23" ry="23"/>
</g>
<g font-size="7.4" fill="#1e1e1e" stroke="#1e1e1e" stroke-width="0.22" filter="url(#tb)">
<text x="216.5" y="98.3">Microtubule</text>
<g text-anchor="middle">
<text x="488.2" y="46.7">Formation</text>
<text x="488.2" y="55.5">of EB1</text>
<text x="488.2" y="64.2">coacervates</text>
<text x="488.2" y="92.4">Tracking of</text>
<text x="488.2" y="101.6">microtubule</text>
<text x="488.2" y="110.8">plus-end</text>
<text x="488.2" y="119.5">dynamics</text>
<text x="488.2" y="149.3">Spindle assembly</text>
<text x="488.2" y="158.6">and orientation</text>
</g>
<text x="561.2" y="41.3">EB1</text>
<text x="561.2" y="55.6">TIP150</text>
<text x="561.2" y="69.6">MCAK</text>
</g>
<g stroke="#222" stroke-width="0.6" fill="#222">
<path d="M488.2 70.5 V80" fill="none"/><path d="M488.2 82.6 l-1.5 -3.4 h3 z" stroke="none"/>
<path d="M488.2 125.2 V135" fill="none"/><path d="M488.2 137.8 l-1.5 -3.4 h3 z" stroke="none"/>
<path d="M534.5 53.2 H515" fill="none"/><path d="M512.3 53.2 l3.6 -1.5 v3 z" stroke="none"/>
</g>
<path d="M541.3 33.7 H537.7 V72.8 H541.3" fill="none" stroke="#8a8a8a" stroke-width="0.7"/>
<ellipse cx="549.5" cy="38.8" rx="6.0" ry="3.6" fill="url(#gred)" stroke="#c9402f" stroke-width="0.8"/>
<ellipse cx="549.5" cy="53.2" rx="6.0" ry="3.6" fill="url(#ggreen)" stroke="#7aa53c" stroke-width="0.8"/>
<ellipse cx="549.5" cy="67.3" rx="6.0" ry="3.6" fill="url(#gblue)" stroke="#3c74b4" stroke-width="0.8"/>
<defs>
<radialGradient id="sw" cx="48%" cy="36%" r="62%"><stop offset="0" stop-color="#ffffff"/><stop offset="0.45" stop-color="#ededed"/><stop offset="0.8" stop-color="#d0d0d0"/><stop offset="1" stop-color="#a6a6a6"/></radialGradient>
<radialGradient id="sg" cx="48%" cy="36%" r="62%"><stop offset="0" stop-color="#ececec"/><stop offset="0.45" stop-color="#d0d0d0"/><stop offset="0.8" stop-color="#b4b4b4"/><stop offset="1" stop-color="#969696"/></radialGradient>
<radialGradient id="ss" cx="50%" cy="45%" r="60%"><stop offset="0" stop-color="#ffffff"/><stop offset="0.55" stop-color="#f3f3f3"/><stop offset="1" stop-color="#d4d4d4"/></radialGradient>
<filter id="mb" x="-5%" y="-5%" width="110%" height="110%"><feGaussianBlur stdDeviation="0.42"/></filter>
<linearGradient id="sheetfade" x1="0" y1="0" x2="1" y2="0"><stop offset="0" stop-color="#fff" stop-opacity="0"/><stop offset="1" stop-color="#fff" stop-opacity="0.6"/></linearGradient>
</defs>
<g filter="url(#mb)">
<ellipse cx="349.5" cy="88.8" rx="5.0" ry="3.6" fill="url(#ss)" stroke="#bcbcbc" stroke-width="0.6" opacity="1"/>
<ellipse cx="359.5" cy="88.8" rx="5.0" ry="3.6" fill="url(#ss)" stroke="#bcbcbc" stroke-width="0.6" opacity="1"/>
<ellipse cx="369.5" cy="88.8" rx="5.0" ry="3.6" fill="url(#ss)" stroke="#bcbcbc" stroke-width="0.6" opacity="0.93"/>
<ellipse cx="379.5" cy="88.8" rx="5.0" ry="3.6" fill="url(#ss)" stroke="#bcbcbc" stroke-width="0.6" opacity="0.84"/>
<ellipse cx="389.5" cy="88.8" rx="5.0" ry="3.6" fill="url(#ss)" stroke="#bcbcbc" stroke-width="0.6" opacity="0.75"/>
<ellipse cx="399.5" cy="88.8" rx="5.0" ry="3.6" fill="url(#ss)" stroke="#bcbcbc" stroke-width="0.6" opacity="0.65"/>
<ellipse cx="409.5" cy="88.8" rx="5.0" ry="3.6" fill="url(#ss)" stroke="#bcbcbc" stroke-width="0.6" opacity="0.56"/>
<ellipse cx="419.5" cy="88.8" rx="5.0" ry="3.6" fill="url(#ss)" stroke="#bcbcbc" stroke-width="0.6" opacity="0.47"/>
<ellipse cx="429.5" cy="88.8" rx="5.0" ry="3.6" fill="url(#ss)" stroke="#bcbcbc" stroke-width="0.6" opacity="0.38"/>
<ellipse cx="344.5" cy="95.4" rx="5.0" ry="3.6" fill="url(#ss)" stroke="#bcbcbc" stroke-width="0.6" opacity="1"/>
<ellipse cx="354.5" cy="95.4" rx="5.0" ry="3.6" fill="url(#ss)" stroke="#bcbcbc" stroke-width="0.6" opacity="1"/>
<ellipse cx="364.5" cy="95.4" rx="5.0" ry="3.6" fill="url(#ss)" stroke="#bcbcbc" stroke-width="0.6" opacity="0.97"/>
<ellipse cx="374.5" cy="95.4" rx="5.0" ry="3.6" fill="url(#ss)" stroke="#bcbcbc" stroke-width="0.6" opacity="0.88"/>
<ellipse cx="384.5" cy="95.4" rx="5.0" ry="3.6" fill="url(#ss)" stroke="#bcbcbc" stroke-width="0.6" opacity="0.79"/>
<ellipse cx="394.5" cy="95.4" rx="5.0" ry="3.6" fill="url(#ss)" stroke="#bcbcbc" stroke-width="0.6" opacity="0.7"/>
<ellipse cx="404.5" cy="95.4" rx="5.0" ry="3.6" fill="url(#ss)" stroke="#bcbcbc" stroke-width="0.6" opacity="0.61"/>
<ellipse cx="414.5" cy="95.4" rx="5.0" ry="3.6" fill="url(#ss)" stroke="#bcbcbc" stroke-width="0.6" opacity="0.52"/>
<ellipse cx="424.5" cy="95.4" rx="5.0" ry="3.6" fill="url(#ss)" stroke="#bcbcbc" stroke-width="0.6" opacity="0.43"/>
<ellipse cx="349.5" cy="102.0" rx="5.0" ry="3.6" fill="url(#ss)" stroke="#bcbcbc" stroke-width="0.6" opacity="1"/>
<ellipse cx="359.5" cy="102.0" rx="5.0" ry="3.6" fill="url(#ss)" stroke="#bcbcbc" stroke-width="0.6" opacity="1"/>
<ellipse cx="369.5" cy="102.0" rx="5.0" ry="3.6" fill="url(#ss)" stroke="#bcbcbc" stroke-width="0.6" opacity="0.93"/>
<ellipse cx="379.5" cy="102.0" rx="5.0" ry="3.6" fill="url(#ss)" stroke="#bcbcbc" stroke-width="0.6" opacity="0.84"/>
<ellipse cx="389.5" cy="102.0" rx="5.0" ry="3.6" fill="url(#ss)" stroke="#bcbcbc" stroke-width="0.6" opacity="0.75"/>
<ellipse cx="399.5" cy="102.0" rx="5.0" ry="3.6" fill="url(#ss)" stroke="#bcbcbc" stroke-width="0.6" opacity="0.65"/>
<ellipse cx="409.5" cy="102.0" rx="5.0" ry="3.6" fill="url(#ss)" stroke="#bcbcbc" stroke-width="0.6" opacity="0.56"/>
<ellipse cx="419.5" cy="102.0" rx="5.0" ry="3.6" fill="url(#ss)" stroke="#bcbcbc" stroke-width="0.6" opacity="0.47"/>
<ellipse cx="354.5" cy="108.6" rx="5.0" ry="3.6" fill="url(#ss)" stroke="#bcbcbc" stroke-width="0.6" opacity="1"/>
<ellipse cx="364.5" cy="108.6" rx="5.0" ry="3.6" fill="url(#ss)" stroke="#bcbcbc" stroke-width="0.6" opacity="0.97"/>
<ellipse cx="374.5" cy="108.6" rx="5.0" ry="3.6" fill="url(#ss)" stroke="#bcbcbc" stroke-width="0.6" opacity="0.88"/>
<ellipse cx="384.5" cy="108.6" rx="5.0" ry="3.6" fill="url(#ss)" stroke="#bcbcbc" stroke-width="0.6" opacity="0.79"/>
<ellipse cx="394.5" cy="108.6" rx="5.0" ry="3.6" fill="url(#ss)" stroke="#bcbcbc" stroke-width="0.6" opacity="0.7"/>
<ellipse cx="404.5" cy="108.6" rx="5.0" ry="3.6" fill="url(#ss)" stroke="#bcbcbc" stroke-width="0.6" opacity="0.61"/>
<ellipse cx="414.5" cy="108.6" rx="5.0" ry="3.6" fill="url(#ss)" stroke="#bcbcbc" stroke-width="0.6" opacity="0.52"/>
<ellipse cx="424.5" cy="108.6" rx="5.0" ry="3.6" fill="url(#ss)" stroke="#bcbcbc" stroke-width="0.6" opacity="0.43"/>
<ellipse cx="359.5" cy="115.2" rx="5.0" ry="3.6" fill="url(#ss)" stroke="#bcbcbc" stroke-width="0.6" opacity="1"/>
<ellipse cx="369.5" cy="115.2" rx="5.0" ry="3.6" fill="url(#ss)" stroke="#bcbcbc" stroke-width="0.6" opacity="0.93"/>
<ellipse cx="379.5" cy="115.2" rx="5.0" ry="3.6" fill="url(#ss)" stroke="#bcbcbc" stroke-width="0.6" opacity="0.84"/>
<ellipse cx="389.5" cy="115.2" rx="5.0" ry="3.6" fill="url(#ss)" stroke="#bcbcbc" stroke-width="0.6" opacity="0.75"/>
<ellipse cx="399.5" cy="115.2" rx="5.0" ry="3.6" fill="url(#ss)" stroke="#bcbcbc" stroke-width="0.6" opacity="0.65"/>
<ellipse cx="409.5" cy="115.2" rx="5.0" ry="3.6" fill="url(#ss)" stroke="#bcbcbc" stroke-width="0.6" opacity="0.56"/>
<ellipse cx="419.5" cy="115.2" rx="5.0" ry="3.6" fill="url(#ss)" stroke="#bcbcbc" stroke-width="0.6" opacity="0.47"/>
<ellipse cx="364.5" cy="121.8" rx="5.0" ry="3.6" fill="url(#ss)" stroke="#bcbcbc" stroke-width="0.6" opacity="0.97"/>
<ellipse cx="374.5" cy="121.8" rx="5.0" ry="3.6" fill="url(#ss)" stroke="#bcbcbc" stroke-width="0.6" opacity="0.88"/>
<ellipse cx="384.5" cy="121.8" rx="5.0" ry="3.6" fill="url(#ss)" stroke="#bcbcbc" stroke-width="0.6" opacity="0.79"/>
<ellipse cx="394.5" cy="121.8" rx="5.0" ry="3.6" fill="url(#ss)" stroke="#bcbcbc" stroke-width="0.6" opacity="0.7"/>
<ellipse cx="404.5" cy="121.8" rx="5.0" ry="3.6" fill="url(#ss)" stroke="#bcbcbc" stroke-width="0.6" opacity="0.61"/>
<ellipse cx="414.5" cy="121.8" rx="5.0" ry="3.6" fill="url(#ss)" stroke="#bcbcbc" stroke-width="0.6" opacity="0.52"/>
<ellipse cx="369.5" cy="128.4" rx="5.0" ry="3.6" fill="url(#ss)" stroke="#bcbcbc" stroke-width="0.6" opacity="0.93"/>
<ellipse cx="379.5" cy="128.4" rx="5.0" ry="3.6" fill="url(#ss)" stroke="#bcbcbc" stroke-width="0.6" opacity="0.84"/>
<ellipse cx="389.5" cy="128.4" rx="5.0" ry="3.6" fill="url(#ss)" stroke="#bcbcbc" stroke-width="0.6" opacity="0.75"/>
<ellipse cx="399.5" cy="128.4" rx="5.0" ry="3.6" fill="url(#ss)" stroke="#bcbcbc" stroke-width="0.6" opacity="0.65"/>
<ellipse cx="409.5" cy="128.4" rx="5.0" ry="3.6" fill="url(#ss)" stroke="#bcbcbc" stroke-width="0.6" opacity="0.56"/>
<ellipse cx="374.5" cy="135.0" rx="5.0" ry="3.6" fill="url(#ss)" stroke="#bcbcbc" stroke-width="0.6" opacity="0.88"/>
<ellipse cx="384.5" cy="135.0" rx="5.0" ry="3.6" fill="url(#ss)" stroke="#bcbcbc" stroke-width="0.6" opacity="0.79"/>
<ellipse cx="394.5" cy="135.0" rx="5.0" ry="3.6" fill="url(#ss)" stroke="#bcbcbc" stroke-width="0.6" opacity="0.7"/>
<ellipse cx="404.5" cy="135.0" rx="5.0" ry="3.6" fill="url(#ss)" stroke="#bcbcbc" stroke-width="0.6" opacity="0.61"/>
<ellipse cx="379.5" cy="141.6" rx="5.0" ry="3.6" fill="url(#ss)" stroke="#bcbcbc" stroke-width="0.6" opacity="0.84"/>
<ellipse cx="389.5" cy="141.6" rx="5.0" ry="3.6" fill="url(#ss)" stroke="#bcbcbc" stroke-width="0.6" opacity="0.75"/>
<ellipse cx="399.5" cy="141.6" rx="5.0" ry="3.6" fill="url(#ss)" stroke="#bcbcbc" stroke-width="0.6" opacity="0.65"/>
<ellipse cx="394.5" cy="148.2" rx="5.0" ry="3.6" fill="url(#ss)" stroke="#bcbcbc" stroke-width="0.6" opacity="0.7"/>
<ellipse cx="220.3" cy="42.5" rx="5.4" ry="3.9" fill="url(#sw)" transform="rotate(8 220.3 42.5)" stroke="#9a9a9a" stroke-width="0.3"/>
<ellipse cx="229.9" cy="45.2" rx="5.4" ry="3.9" fill="url(#sg)" transform="rotate(8 229.9 45.2)" stroke="#808080" stroke-width="0.3"/>
<ellipse cx="239.5" cy="47.9" rx="5.4" ry="3.9" fill="url(#sw)" transform="rotate(8 239.5 47.9)" stroke="#9a9a9a" stroke-width="0.3"/>
<ellipse cx="249.1" cy="50.6" rx="5.4" ry="3.9" fill="url(#sg)" transform="rotate(8 249.1 50.6)" stroke="#808080" stroke-width="0.3"/>
<ellipse cx="258.7" cy="53.3" rx="5.4" ry="3.9" fill="url(#sw)" transform="rotate(8 258.7 53.3)" stroke="#9a9a9a" stroke-width="0.3"/>
<ellipse cx="268.3" cy="56.0" rx="5.4" ry="3.9" fill="url(#sg)" transform="rotate(8 268.3 56.0)" stroke="#808080" stroke-width="0.3"/>
<ellipse cx="277.9" cy="58.7" rx="5.4" ry="3.9" fill="url(#sw)" transform="rotate(8 277.9 58.7)" stroke="#9a9a9a" stroke-width="0.3"/>
<ellipse cx="287.5" cy="61.4" rx="5.4" ry="3.9" fill="url(#sg)" transform="rotate(8 287.5 61.4)" stroke="#808080" stroke-width="0.3"/>
<ellipse cx="297.1" cy="64.1" rx="5.4" ry="3.9" fill="url(#sw)" transform="rotate(8 297.1 64.1)" stroke="#9a9a9a" stroke-width="0.3"/>
<ellipse cx="306.7" cy="66.8" rx="5.4" ry="3.9" fill="url(#sg)" transform="rotate(8 306.7 66.8)" stroke="#808080" stroke-width="0.3"/>
<ellipse cx="316.3" cy="69.5" rx="5.4" ry="3.9" fill="url(#sw)" transform="rotate(8 316.3 69.5)" stroke="#9a9a9a" stroke-width="0.3"/>
<ellipse cx="325.9" cy="72.2" rx="5.4" ry="3.9" fill="url(#sg)" transform="rotate(8 325.9 72.2)" stroke="#808080" stroke-width="0.3"/>
<ellipse cx="335.5" cy="74.9" rx="5.4" ry="3.9" fill="url(#sw)" transform="rotate(8 335.5 74.9)" stroke="#9a9a9a" stroke-width="0.3"/>
<ellipse cx="345.1" cy="77.6" rx="5.4" ry="3.9" fill="url(#sg)" transform="rotate(8 345.1 77.6)" stroke="#808080" stroke-width="0.3"/>
<ellipse cx="221.9" cy="47.5" rx="5.4" ry="3.9" fill="url(#sw)" transform="rotate(8 221.9 47.5)" stroke="#9a9a9a" stroke-width="0.3"/>
<ellipse cx="231.5" cy="50.1" rx="5.4" ry="3.9" fill="url(#sg)" transform="rotate(8 231.5 50.1)" stroke="#808080" stroke-width="0.3"/>
<ellipse cx="241.1" cy="52.9" rx="5.4" ry="3.9" fill="url(#sw)" transform="rotate(8 241.1 52.9)" stroke="#9a9a9a" stroke-width="0.3"/>
<ellipse cx="250.7" cy="55.5" rx="5.4" ry="3.9" fill="url(#sg)" transform="rotate(8 250.7 55.5)" stroke="#808080" stroke-width="0.3"/>
<ellipse cx="260.3" cy="58.2" rx="5.4" ry="3.9" fill="url(#sw)" transform="rotate(8 260.3 58.2)" stroke="#9a9a9a" stroke-width="0.3"/>
<ellipse cx="269.9" cy="61.0" rx="5.4" ry="3.9" fill="url(#sg)" transform="rotate(8 269.9 61.0)" stroke="#808080" stroke-width="0.3"/>
<ellipse cx="279.5" cy="63.7" rx="5.4" ry="3.9" fill="url(#sw)" transform="rotate(8 279.5 63.7)" stroke="#9a9a9a" stroke-width="0.3"/>
<ellipse cx="289.1" cy="66.3" rx="5.4" ry="3.9" fill="url(#sg)" transform="rotate(8 289.1 66.3)" stroke="#808080" stroke-width="0.3"/>
<ellipse cx="298.7" cy="69.0" rx="5.4" ry="3.9" fill="url(#sw)" transform="rotate(8 298.7 69.0)" stroke="#9a9a9a" stroke-width="0.3"/>
<ellipse cx="308.3" cy="71.8" rx="5.4" ry="3.9" fill="url(#sg)" transform="rotate(8 308.3 71.8)" stroke="#808080" stroke-width="0.3"/>
<ellipse cx="317.9" cy="74.5" rx="5.4" ry="3.9" fill="url(#sw)" transform="rotate(8 317.9 74.5)" stroke="#9a9a9a" stroke-width="0.3"/>
<ellipse cx="327.5" cy="77.2" rx="5.4" ry="3.9" fill="url(#sg)" transform="rotate(8 327.5 77.2)" stroke="#808080" stroke-width="0.3"/>
<ellipse cx="337.1" cy="79.9" rx="5.4" ry="3.9" fill="url(#sw)" transform="rotate(8 337.1 79.9)" stroke="#9a9a9a" stroke-width="0.3"/>
<ellipse cx="346.7" cy="82.5" rx="5.4" ry="3.9" fill="url(#sg)" transform="rotate(8 346.7 82.5)" stroke="#808080" stroke-width="0.3"/>
<ellipse cx="223.5" cy="52.4" rx="5.4" ry="3.9" fill="url(#sw)" transform="rotate(8 223.5 52.4)" stroke="#9a9a9a" stroke-width="0.3"/>
<ellipse cx="233.1" cy="55.1" rx="5.4" ry="3.9" fill="url(#sg)" transform="rotate(8 233.1 55.1)" stroke="#808080" stroke-width="0.3"/>
<ellipse cx="242.7" cy="57.8" rx="5.4" ry="3.9" fill="url(#sw)" transform="rotate(8 242.7 57.8)" stroke="#9a9a9a" stroke-width="0.3"/>
<ellipse cx="252.3" cy="60.5" rx="5.4" ry="3.9" fill="url(#sg)" transform="rotate(8 252.3 60.5)" stroke="#808080" stroke-width="0.3"/>
<ellipse cx="261.9" cy="63.2" rx="5.4" ry="3.9" fill="url(#sw)" transform="rotate(8 261.9 63.2)" stroke="#9a9a9a" stroke-width="0.3"/>
<ellipse cx="271.5" cy="65.9" rx="5.4" ry="3.9" fill="url(#sg)" transform="rotate(8 271.5 65.9)" stroke="#808080" stroke-width="0.3"/>
<ellipse cx="281.1" cy="68.6" rx="5.4" ry="3.9" fill="url(#sw)" transform="rotate(8 281.1 68.6)" stroke="#9a9a9a" stroke-width="0.3"/>
<ellipse cx="290.7" cy="71.3" rx="5.4" ry="3.9" fill="url(#sg)" transform="rotate(8 290.7 71.3)" stroke="#808080" stroke-width="0.3"/>
<ellipse cx="300.3" cy="74.0" rx="5.4" ry="3.9" fill="url(#sw)" transform="rotate(8 300.3 74.0)" stroke="#9a9a9a" stroke-width="0.3"/>
<ellipse cx="309.9" cy="76.7" rx="5.4" ry="3.9" fill="url(#sg)" transform="rotate(8 309.9 76.7)" stroke="#808080" stroke-width="0.3"/>
<ellipse cx="319.5" cy="79.4" rx="5.4" ry="3.9" fill="url(#sw)" transform="rotate(8 319.5 79.4)" stroke="#9a9a9a" stroke-width="0.3"/>
<ellipse cx="329.1" cy="82.1" rx="5.4" ry="3.9" fill="url(#sg)" transform="rotate(8 329.1 82.1)" stroke="#808080" stroke-width="0.3"/>
<ellipse cx="338.7" cy="84.8" rx="5.4" ry="3.9" fill="url(#sw)" transform="rotate(8 338.7 84.8)" stroke="#9a9a9a" stroke-width="0.3"/>
<ellipse cx="225.1" cy="57.4" rx="5.4" ry="3.9" fill="url(#sw)" transform="rotate(8 225.1 57.4)" stroke="#9a9a9a" stroke-width="0.3"/>
<ellipse cx="234.7" cy="60.0" rx="5.4" ry="3.9" fill="url(#sg)" transform="rotate(8 234.7 60.0)" stroke="#808080" stroke-width="0.3"/>
<ellipse cx="244.3" cy="62.8" rx="5.4" ry="3.9" fill="url(#sw)" transform="rotate(8 244.3 62.8)" stroke="#9a9a9a" stroke-width="0.3"/>
<ellipse cx="253.9" cy="65.4" rx="5.4" ry="3.9" fill="url(#sg)" transform="rotate(8 253.9 65.4)" stroke="#808080" stroke-width="0.3"/>
<ellipse cx="263.5" cy="68.2" rx="5.4" ry="3.9" fill="url(#sw)" transform="rotate(8 263.5 68.2)" stroke="#9a9a9a" stroke-width="0.3"/>
<ellipse cx="273.1" cy="70.8" rx="5.4" ry="3.9" fill="url(#sg)" transform="rotate(8 273.1 70.8)" stroke="#808080" stroke-width="0.3"/>
<ellipse cx="282.7" cy="73.6" rx="5.4" ry="3.9" fill="url(#sw)" transform="rotate(8 282.7 73.6)" stroke="#9a9a9a" stroke-width="0.3"/>
<ellipse cx="292.3" cy="76.2" rx="5.4" ry="3.9" fill="url(#sg)" transform="rotate(8 292.3 76.2)" stroke="#808080" stroke-width="0.3"/>
<ellipse cx="301.9" cy="78.9" rx="5.4" ry="3.9" fill="url(#sw)" transform="rotate(8 301.9 78.9)" stroke="#9a9a9a" stroke-width="0.3"/>
<ellipse cx="311.5" cy="81.7" rx="5.4" ry="3.9" fill="url(#sg)" transform="rotate(8 311.5 81.7)" stroke="#808080" stroke-width="0.3"/>
<ellipse cx="321.1" cy="84.3" rx="5.4" ry="3.9" fill="url(#sw)" transform="rotate(8 321.1 84.3)" stroke="#9a9a9a" stroke-width="0.3"/>
<ellipse cx="330.7" cy="87.1" rx="5.4" ry="3.9" fill="url(#sg)" transform="rotate(8 330.7 87.1)" stroke="#808080" stroke-width="0.3"/>
<ellipse cx="217.9" cy="61.8" rx="5.4" ry="3.9" fill="url(#sg)" transform="rotate(8 217.9 61.8)" stroke="#808080" stroke-width="0.3"/>
<ellipse cx="226.7" cy="62.3" rx="5.4" ry="3.9" fill="url(#sw)" transform="rotate(8 226.7 62.3)" stroke="#9a9a9a" stroke-width="0.3"/>
<ellipse cx="236.3" cy="65.0" rx="5.4" ry="3.9" fill="url(#sg)" transform="rotate(8 236.3 65.0)" stroke="#808080" stroke-width="0.3"/>
<ellipse cx="245.9" cy="67.7" rx="5.4" ry="3.9" fill="url(#sw)" transform="rotate(8 245.9 67.7)" stroke="#9a9a9a" stroke-width="0.3"/>
<ellipse cx="255.5" cy="70.4" rx="5.4" ry="3.9" fill="url(#sg)" transform="rotate(8 255.5 70.4)" stroke="#808080" stroke-width="0.3"/>
<ellipse cx="265.1" cy="73.1" rx="5.4" ry="3.9" fill="url(#sw)" transform="rotate(8 265.1 73.1)" stroke="#9a9a9a" stroke-width="0.3"/>
<ellipse cx="274.7" cy="75.8" rx="5.4" ry="3.9" fill="url(#sg)" transform="rotate(8 274.7 75.8)" stroke="#808080" stroke-width="0.3"/>
<ellipse cx="284.3" cy="78.5" rx="5.4" ry="3.9" fill="url(#sw)" transform="rotate(8 284.3 78.5)" stroke="#9a9a9a" stroke-width="0.3"/>
<ellipse cx="293.9" cy="81.2" rx="5.4" ry="3.9" fill="url(#sg)" transform="rotate(8 293.9 81.2)" stroke="#808080" stroke-width="0.3"/>
<ellipse cx="303.5" cy="83.9" rx="5.4" ry="3.9" fill="url(#sw)" transform="rotate(8 303.5 83.9)" stroke="#9a9a9a" stroke-width="0.3"/>
<ellipse cx="313.1" cy="86.6" rx="5.4" ry="3.9" fill="url(#sg)" transform="rotate(8 313.1 86.6)" stroke="#808080" stroke-width="0.3"/>
<ellipse cx="322.7" cy="89.3" rx="5.4" ry="3.9" fill="url(#sw)" transform="rotate(8 322.7 89.3)" stroke="#9a9a9a" stroke-width="0.3"/>
<ellipse cx="332.3" cy="92.0" rx="5.4" ry="3.9" fill="url(#sg)" transform="rotate(8 332.3 92.0)" stroke="#808080" stroke-width="0.3"/>
<ellipse cx="219.5" cy="66.8" rx="5.4" ry="3.9" fill="url(#sg)" transform="rotate(8 219.5 66.8)" stroke="#808080" stroke-width="0.3"/>
<ellipse cx="228.3" cy="67.2" rx="5.4" ry="3.9" fill="url(#sw)" transform="rotate(8 228.3 67.2)" stroke="#9a9a9a" stroke-width="0.3"/>
<ellipse cx="237.9" cy="69.9" rx="5.4" ry="3.9" fill="url(#sg)" transform="rotate(8 237.9 69.9)" stroke="#808080" stroke-width="0.3"/>
<ellipse cx="247.5" cy="72.7" rx="5.4" ry="3.9" fill="url(#sw)" transform="rotate(8 247.5 72.7)" stroke="#9a9a9a" stroke-width="0.3"/>
<ellipse cx="257.1" cy="75.3" rx="5.4" ry="3.9" fill="url(#sg)" transform="rotate(8 257.1 75.3)" stroke="#808080" stroke-width="0.3"/>
<ellipse cx="266.7" cy="78.0" rx="5.4" ry="3.9" fill="url(#sw)" transform="rotate(8 266.7 78.0)" stroke="#9a9a9a" stroke-width="0.3"/>
<ellipse cx="276.3" cy="80.8" rx="5.4" ry="3.9" fill="url(#sg)" transform="rotate(8 276.3 80.8)" stroke="#808080" stroke-width="0.3"/>
<ellipse cx="285.9" cy="83.5" rx="5.4" ry="3.9" fill="url(#sw)" transform="rotate(8 285.9 83.5)" stroke="#9a9a9a" stroke-width="0.3"/>
<ellipse cx="295.5" cy="86.2" rx="5.4" ry="3.9" fill="url(#sg)" transform="rotate(8 295.5 86.2)" stroke="#808080" stroke-width="0.3"/>
<ellipse cx="305.1" cy="88.8" rx="5.4" ry="3.9" fill="url(#sw)" transform="rotate(8 305.1 88.8)" stroke="#9a9a9a" stroke-width="0.3"/>
<ellipse cx="314.7" cy="91.5" rx="5.4" ry="3.9" fill="url(#sg)" transform="rotate(8 314.7 91.5)" stroke="#808080" stroke-width="0.3"/>
<ellipse cx="324.3" cy="94.2" rx="5.4" ry="3.9" fill="url(#sw)" transform="rotate(8 324.3 94.2)" stroke="#9a9a9a" stroke-width="0.3"/>
<ellipse cx="333.9" cy="97.0" rx="5.4" ry="3.9" fill="url(#sg)" transform="rotate(8 333.9 97.0)" stroke="#808080" stroke-width="0.3"/>
<ellipse cx="221.1" cy="71.7" rx="5.4" ry="3.9" fill="url(#sg)" transform="rotate(8 221.1 71.7)" stroke="#808080" stroke-width="0.3"/>
<ellipse cx="229.9" cy="72.2" rx="5.4" ry="3.9" fill="url(#sw)" transform="rotate(8 229.9 72.2)" stroke="#9a9a9a" stroke-width="0.3"/>
<ellipse cx="239.5" cy="74.9" rx="5.4" ry="3.9" fill="url(#sg)" transform="rotate(8 239.5 74.9)" stroke="#808080" stroke-width="0.3"/>
<ellipse cx="249.1" cy="77.6" rx="5.4" ry="3.9" fill="url(#sw)" transform="rotate(8 249.1 77.6)" stroke="#9a9a9a" stroke-width="0.3"/>
<ellipse cx="258.7" cy="80.3" rx="5.4" ry="3.9" fill="url(#sg)" transform="rotate(8 258.7 80.3)" stroke="#808080" stroke-width="0.3"/>
<ellipse cx="268.3" cy="83.0" rx="5.4" ry="3.9" fill="url(#sw)" transform="rotate(8 268.3 83.0)" stroke="#9a9a9a" stroke-width="0.3"/>
<ellipse cx="277.9" cy="85.7" rx="5.4" ry="3.9" fill="url(#sg)" transform="rotate(8 277.9 85.7)" stroke="#808080" stroke-width="0.3"/>
<ellipse cx="287.5" cy="88.4" rx="5.4" ry="3.9" fill="url(#sw)" transform="rotate(8 287.5 88.4)" stroke="#9a9a9a" stroke-width="0.3"/>
<ellipse cx="297.1" cy="91.1" rx="5.4" ry="3.9" fill="url(#sg)" transform="rotate(8 297.1 91.1)" stroke="#808080" stroke-width="0.3"/>
<ellipse cx="306.7" cy="93.8" rx="5.4" ry="3.9" fill="url(#sw)" transform="rotate(8 306.7 93.8)" stroke="#9a9a9a" stroke-width="0.3"/>
<ellipse cx="316.3" cy="96.5" rx="5.4" ry="3.9" fill="url(#sg)" transform="rotate(8 316.3 96.5)" stroke="#808080" stroke-width="0.3"/>
<ellipse cx="325.9" cy="99.2" rx="5.4" ry="3.9" fill="url(#sw)" transform="rotate(8 325.9 99.2)" stroke="#9a9a9a" stroke-width="0.3"/>
<ellipse cx="335.5" cy="101.9" rx="5.4" ry="3.9" fill="url(#sg)" transform="rotate(8 335.5 101.9)" stroke="#808080" stroke-width="0.3"/>
<ellipse cx="231.5" cy="77.2" rx="5.4" ry="3.9" fill="url(#sw)" transform="rotate(8 231.5 77.2)" stroke="#9a9a9a" stroke-width="0.3"/>
<ellipse cx="241.1" cy="79.8" rx="5.4" ry="3.9" fill="url(#sg)" transform="rotate(8 241.1 79.8)" stroke="#808080" stroke-width="0.3"/>
<ellipse cx="250.7" cy="82.5" rx="5.4" ry="3.9" fill="url(#sw)" transform="rotate(8 250.7 82.5)" stroke="#9a9a9a" stroke-width="0.3"/>
<ellipse cx="260.3" cy="85.2" rx="5.4" ry="3.9" fill="url(#sg)" transform="rotate(8 260.3 85.2)" stroke="#808080" stroke-width="0.3"/>
<ellipse cx="269.9" cy="87.9" rx="5.4" ry="3.9" fill="url(#sw)" transform="rotate(8 269.9 87.9)" stroke="#9a9a9a" stroke-width="0.3"/>
<ellipse cx="279.5" cy="90.7" rx="5.4" ry="3.9" fill="url(#sg)" transform="rotate(8 279.5 90.7)" stroke="#808080" stroke-width="0.3"/>
<ellipse cx="289.1" cy="93.3" rx="5.4" ry="3.9" fill="url(#sw)" transform="rotate(8 289.1 93.3)" stroke="#9a9a9a" stroke-width="0.3"/>
<ellipse cx="298.7" cy="96.0" rx="5.4" ry="3.9" fill="url(#sg)" transform="rotate(8 298.7 96.0)" stroke="#808080" stroke-width="0.3"/>
<ellipse cx="308.3" cy="98.8" rx="5.4" ry="3.9" fill="url(#sw)" transform="rotate(8 308.3 98.8)" stroke="#9a9a9a" stroke-width="0.3"/>
<ellipse cx="317.9" cy="101.4" rx="5.4" ry="3.9" fill="url(#sg)" transform="rotate(8 317.9 101.4)" stroke="#808080" stroke-width="0.3"/>
<ellipse cx="327.5" cy="104.2" rx="5.4" ry="3.9" fill="url(#sw)" transform="rotate(8 327.5 104.2)" stroke="#9a9a9a" stroke-width="0.3"/>
<ellipse cx="337.1" cy="106.8" rx="5.4" ry="3.9" fill="url(#sg)" transform="rotate(8 337.1 106.8)" stroke="#808080" stroke-width="0.3"/>
<ellipse cx="250.4" cy="70.0" rx="5.5" ry="3.6" fill="url(#gred)" transform="rotate(20 250.4 70.0)" stroke="#c8402f" stroke-width="0.5"/>
<ellipse cx="268.7" cy="70.2" rx="5.5" ry="3.6" fill="url(#gred)" transform="rotate(20 268.7 70.2)" stroke="#c8402f" stroke-width="0.5"/>
<ellipse cx="304.8" cy="75.6" rx="5.5" ry="3.6" fill="url(#gred)" transform="rotate(20 304.8 75.6)" stroke="#c8402f" stroke-width="0.5"/>
<ellipse cx="324.6" cy="87.3" rx="5.5" ry="3.6" fill="url(#gred)" transform="rotate(20 324.6 87.3)" stroke="#c8402f" stroke-width="0.5"/>
<ellipse cx="366.3" cy="80.6" rx="4.6" ry="3.3" fill="url(#sg)" opacity="0.6"/>
<ellipse cx="386.5" cy="81.0" rx="4.6" ry="3.3" fill="url(#sg)" opacity="0.6"/>
<ellipse cx="406.5" cy="81.0" rx="4.6" ry="3.3" fill="url(#sg)" opacity="0.6"/>
<ellipse cx="426.5" cy="81.0" rx="4.6" ry="3.3" fill="url(#sg)" opacity="0.6"/>
<ellipse cx="434.0" cy="79.6" rx="4.6" ry="3.3" fill="url(#sg)" opacity="0.6"/>
<ellipse cx="358.2" cy="78.8" rx="5.5" ry="3.6" fill="url(#gred)" transform="rotate(18 358.2 78.8)" stroke="#c8402f" stroke-width="0.5"/>
<ellipse cx="361.8" cy="73.6" rx="5.4" ry="3.6" fill="url(#ggreen)" transform="rotate(8 361.8 73.6)" stroke="#83ad42" stroke-width="0.5"/>
<ellipse cx="378.5" cy="79.4" rx="5.5" ry="3.6" fill="url(#gred)" transform="rotate(15 378.5 79.4)" stroke="#c8402f" stroke-width="0.5"/>
<ellipse cx="394.6" cy="73.6" rx="5.4" ry="3.5" fill="url(#gblue)" transform="rotate(-78 394.6 73.6)" stroke="#3f78b8" stroke-width="0.5"/>
<ellipse cx="399.3" cy="79.8" rx="5.5" ry="3.6" fill="url(#gred)" transform="rotate(18 399.3 79.8)" stroke="#c8402f" stroke-width="0.5"/>
<ellipse cx="413.8" cy="73.8" rx="5.4" ry="3.5" fill="url(#gblue)" transform="rotate(-84 413.8 73.8)" stroke="#3f78b8" stroke-width="0.5"/>
<ellipse cx="418.8" cy="79.5" rx="5.5" ry="3.6" fill="url(#gred)" transform="rotate(15 418.8 79.5)" stroke="#c8402f" stroke-width="0.5"/>
<ellipse cx="421.7" cy="74.2" rx="5.4" ry="3.6" fill="url(#ggreen)" transform="rotate(5 421.7 74.2)" stroke="#83ad42" stroke-width="0.5"/>
<ellipse cx="332.0" cy="105.0" rx="4.6" ry="3.3" fill="url(#sg)" transform="rotate(20 332.0 105.0)" opacity="0.65"/>
<ellipse cx="337.0" cy="108.4" rx="4.6" ry="3.3" fill="url(#sg)" transform="rotate(20 337.0 108.4)" opacity="0.65"/>
<ellipse cx="341.8" cy="111.8" rx="4.6" ry="3.3" fill="url(#sg)" transform="rotate(20 341.8 111.8)" opacity="0.65"/>
<ellipse cx="346.0" cy="115.2" rx="4.6" ry="3.3" fill="url(#sg)" transform="rotate(20 346.0 115.2)" opacity="0.65"/>
<ellipse cx="360.8" cy="122.2" rx="4.6" ry="3.3" fill="url(#sg)" transform="rotate(20 360.8 122.2)" opacity="0.65"/>
<ellipse cx="373.3" cy="134.8" rx="4.6" ry="3.3" fill="url(#sg)" transform="rotate(20 373.3 134.8)" opacity="0.65"/>
<ellipse cx="386.3" cy="148.3" rx="4.6" ry="3.3" fill="url(#sg)" transform="rotate(20 386.3 148.3)" opacity="0.65"/>
<ellipse cx="390.0" cy="155.5" rx="4.6" ry="3.3" fill="url(#sg)" transform="rotate(20 390.0 155.5)" opacity="0.65"/>
<ellipse cx="354.6" cy="119.6" rx="5.5" ry="3.6" fill="url(#gred)" transform="rotate(28 354.6 119.6)" stroke="#c8402f" stroke-width="0.5"/>
<ellipse cx="367.1" cy="131.6" rx="5.5" ry="3.6" fill="url(#gred)" transform="rotate(28 367.1 131.6)" stroke="#c8402f" stroke-width="0.5"/>
<ellipse cx="379.6" cy="145.4" rx="5.5" ry="3.6" fill="url(#gred)" transform="rotate(28 379.6 145.4)" stroke="#c8402f" stroke-width="0.5"/>
<ellipse cx="331.3" cy="137.1" rx="5.5" ry="3.6" fill="url(#gred)" transform="rotate(-12 331.3 137.1)" stroke="#c8402f" stroke-width="0.5"/>
<ellipse cx="330.2" cy="146.2" rx="5.5" ry="3.6" fill="url(#gred)" transform="rotate(14 330.2 146.2)" stroke="#c8402f" stroke-width="0.5"/>
<ellipse cx="343.3" cy="146.0" rx="5.5" ry="3.6" fill="url(#gred)" transform="rotate(6 343.3 146.0)" stroke="#c8402f" stroke-width="0.5"/>
<ellipse cx="344.8" cy="46.9" rx="5.5" ry="3.6" fill="url(#gred)" transform="rotate(15 344.8 46.9)" stroke="#c8402f" stroke-width="0.5"/>
<ellipse cx="348.3" cy="42.3" rx="5.4" ry="3.6" fill="url(#ggreen)" transform="rotate(8 348.3 42.3)" stroke="#83ad42" stroke-width="0.5"/>
<ellipse cx="369.8" cy="37.7" rx="5.5" ry="3.6" fill="url(#gred)" transform="rotate(10 369.8 37.7)" stroke="#c8402f" stroke-width="0.5"/>
<ellipse cx="376.5" cy="45.8" rx="5.5" ry="3.6" fill="url(#gred)" transform="rotate(10 376.5 45.8)" stroke="#c8402f" stroke-width="0.5"/>
<ellipse cx="401.3" cy="43.8" rx="5.5" ry="3.6" fill="url(#gred)" transform="rotate(20 401.3 43.8)" stroke="#c8402f" stroke-width="0.5"/>
<ellipse cx="396.6" cy="38.0" rx="5.4" ry="3.5" fill="url(#gblue)" transform="rotate(-72 396.6 38.0)" stroke="#3f78b8" stroke-width="0.5"/>
<ellipse cx="427.5" cy="46.6" rx="5.5" ry="3.6" fill="url(#gred)" transform="rotate(15 427.5 46.6)" stroke="#c8402f" stroke-width="0.5"/>
<ellipse cx="424.3" cy="40.4" rx="5.4" ry="3.5" fill="url(#gblue)" transform="rotate(-78 424.3 40.4)" stroke="#3f78b8" stroke-width="0.5"/>
<ellipse cx="431.5" cy="41.6" rx="5.4" ry="3.6" fill="url(#ggreen)" transform="rotate(5 431.5 41.6)" stroke="#83ad42" stroke-width="0.5"/>
<path d="M351.6 53.9 L356.0 67.9" stroke="#222" stroke-width="0.45" fill="none"/><path d="M356.3 69.1 L354.5 66.5 L356.4 65.9 Z" fill="#222"/><path d="M358.0 67.3 L353.6 53.3" stroke="#222" stroke-width="0.45" fill="none"/><path d="M353.3 52.1 L355.1 54.7 L353.2 55.3 Z" fill="#222"/>
<path d="M372.1 53.3 L373.4 67.4" stroke="#222" stroke-width="0.45" fill="none"/><path d="M373.5 68.6 L372.2 65.7 L374.2 65.5 Z" fill="#222"/><path d="M375.6 67.2 L374.3 53.1" stroke="#222" stroke-width="0.45" fill="none"/><path d="M374.2 51.9 L375.5 54.8 L373.5 55.0 Z" fill="#222"/>
<path d="M395.4 50.9 L393.7 65.5" stroke="#222" stroke-width="0.45" fill="none"/><path d="M393.6 66.7 L392.9 63.6 L394.9 63.8 Z" fill="#222"/><path d="M395.9 65.7 L397.6 51.1" stroke="#222" stroke-width="0.45" fill="none"/><path d="M397.7 49.9 L398.4 53.0 L396.4 52.8 Z" fill="#222"/>
<path d="M424.6 52.4 L419.4 66.2" stroke="#222" stroke-width="0.45" fill="none"/><path d="M418.9 67.3 L419.1 64.2 L420.9 64.9 Z" fill="#222"/><path d="M421.4 67.0 L426.6 53.2" stroke="#222" stroke-width="0.45" fill="none"/><path d="M427.1 52.1 L426.9 55.2 L425.1 54.5 Z" fill="#222"/>
<path d="M350.0 124.8 L341.6 135.4" stroke="#222" stroke-width="0.45" fill="none"/><path d="M340.8 136.3 L341.9 133.4 L343.5 134.6 Z" fill="#222"/><path d="M343.6 137.0 L352.0 126.4" stroke="#222" stroke-width="0.45" fill="none"/><path d="M352.8 125.5 L351.7 128.4 L350.1 127.2 Z" fill="#222"/>
</g>
<defs>
<filter id="db" x="-50%" y="-50%" width="200%" height="200%"><feGaussianBlur stdDeviation="0.45"/></filter>
<filter id="db2" x="-50%" y="-50%" width="200%" height="200%"><feGaussianBlur stdDeviation="0.8"/></filter>
</defs>
<text x="117" y="213.3" font-size="11" fill="#258a5a">EB1-WT</text>
<path d="M50 217.9 H237" stroke="#3a3a3a" stroke-width="1.1"/>
<text x="80" y="231.3" font-size="11" font-weight="bold" fill="#111" stroke="#111" stroke-width="0.3" text-anchor="middle">–</text>
<text x="126.5" y="231.6" font-size="11" fill="#d322d3">TIP150</text>
<text x="194.6" y="231.6" font-size="11" fill="#d322d3">MCAK</text>
<defs>
<clipPath id="pc00"><rect x="48.8" y="235.6" width="61.6" height="61.2"/></clipPath>
<clipPath id="pc01"><rect x="114.0" y="235.6" width="61.6" height="61.2"/></clipPath>
<clipPath id="pc02"><rect x="179.0" y="235.6" width="61.6" height="61.2"/></clipPath>
<clipPath id="pc10"><rect x="48.8" y="300.2" width="61.6" height="61.2"/></clipPath>
<clipPath id="pc11"><rect x="114.0" y="300.2" width="61.6" height="61.2"/></clipPath>
<clipPath id="pc12"><rect x="179.0" y="300.2" width="61.6" height="61.2"/></clipPath>
<clipPath id="pc20"><rect x="48.8" y="364.9" width="61.6" height="61.2"/></clipPath>
<clipPath id="pc21"><rect x="114.0" y="364.9" width="61.6" height="61.2"/></clipPath>
<clipPath id="pc22"><rect x="179.0" y="364.9" width="61.6" height="61.2"/></clipPath>
</defs>
<rect x="49.199999999999996" y="236.0" width="60.800000000000004" height="60.400000000000006" fill="#fff" stroke="#333" stroke-width="0.9"/>
<rect x="114.0" y="235.6" width="61.6" height="61.2" fill="#160416"/>
<rect x="179.0" y="235.6" width="61.6" height="61.2" fill="#000000"/>
<rect x="48.8" y="300.2" width="61.6" height="61.2" fill="#030a03"/>
<rect x="114.0" y="300.2" width="61.6" height="61.2" fill="#010201"/>
<rect x="179.0" y="300.2" width="61.6" height="61.2" fill="#000100"/>
<rect x="48.8" y="364.9" width="61.6" height="61.2" fill="#030a03"/>
<rect x="114.0" y="364.9" width="61.6" height="61.2" fill="#230b22"/>
<rect x="179.0" y="364.9" width="61.6" height="61.2" fill="#020302"/>
<g clip-path="url(#pc01)">
<g filter="url(#db2)">
<circle cx="131.3" cy="242.7" r="2.7" fill="#a010a0" fill-opacity="1"/>
<circle cx="136.5" cy="248.3" r="3.1" fill="#a010a0" fill-opacity="1"/>
<circle cx="151.0" cy="246.0" r="3.6" fill="#a010a0" fill-opacity="1"/>
<circle cx="154.1" cy="239.5" r="1.8" fill="#a010a0" fill-opacity="0.6"/>
<circle cx="162.8" cy="252.6" r="2.4" fill="#a010a0" fill-opacity="0.95"/>
<circle cx="152.5" cy="260.5" r="3.9" fill="#a010a0" fill-opacity="1"/>
<circle cx="140.7" cy="268.0" r="2.2" fill="#a010a0" fill-opacity="0.9"/>
<circle cx="160.4" cy="281.4" r="3.6" fill="#a010a0" fill-opacity="1"/>
<circle cx="134.4" cy="288.0" r="2.8" fill="#a010a0" fill-opacity="1"/>
<circle cx="138.9" cy="295.1" r="3.1" fill="#a010a0" fill-opacity="1"/>
<circle cx="160.4" cy="265.6" r="1.7" fill="#a010a0" fill-opacity="0.3"/>
<circle cx="116.7" cy="262.3" r="1.7" fill="#a010a0" fill-opacity="0.25"/>
<circle cx="130.5" cy="286.7" r="1.5" fill="#a010a0" fill-opacity="0.6"/>
<circle cx="169.0" cy="247.6" r="1.6" fill="#a010a0" fill-opacity="0.25"/>
<circle cx="120.0" cy="275.6" r="1.7" fill="#a010a0" fill-opacity="0.2"/>
</g>
<g filter="url(#db)">
<circle cx="131.3" cy="242.7" r="2.0" fill="#f01cf0" fill-opacity="1"/>
<circle cx="136.5" cy="248.3" r="2.4" fill="#f01cf0" fill-opacity="1"/>
<ellipse cx="151.0" cy="246.0" rx="2.5" ry="3.2" fill="#f01cf0" fill-opacity="1"/>
<circle cx="154.1" cy="239.5" r="1.1" fill="#f01cf0" fill-opacity="0.6"/>
<circle cx="162.8" cy="252.6" r="1.7" fill="#f01cf0" fill-opacity="0.95"/>
<circle cx="152.5" cy="260.5" r="3.2" fill="#f01cf0" fill-opacity="1"/>
<ellipse cx="140.7" cy="268.0" rx="2.3" ry="1.1" transform="rotate(50 140.7 268.0)" fill="#f01cf0" fill-opacity="0.9"/>
<circle cx="160.4" cy="281.4" r="2.9" fill="#f01cf0" fill-opacity="1"/>
<circle cx="134.4" cy="288.0" r="2.1" fill="#f01cf0" fill-opacity="1"/>
<circle cx="138.9" cy="295.1" r="2.4" fill="#f01cf0" fill-opacity="1"/>
<circle cx="160.4" cy="265.6" r="1.0" fill="#f01cf0" fill-opacity="0.3"/>
<circle cx="116.7" cy="262.3" r="1.0" fill="#f01cf0" fill-opacity="0.25"/>
<circle cx="130.5" cy="286.7" r="0.8" fill="#f01cf0" fill-opacity="0.6"/>
<circle cx="169.0" cy="247.6" r="0.9" fill="#f01cf0" fill-opacity="0.25"/>
<circle cx="120.0" cy="275.6" r="1.0" fill="#f01cf0" fill-opacity="0.2"/>
</g>
</g>
<g clip-path="url(#pc02)">
<g filter="url(#db2)">
<circle cx="205.7" cy="246.1" r="2.5" fill="#800880" fill-opacity="1"/>
<circle cx="184.0" cy="248.8" r="1.9" fill="#800880" fill-opacity="0.6"/>
<circle cx="193.3" cy="267.5" r="2.2" fill="#800880" fill-opacity="0.9"/>
<circle cx="188.1" cy="279.0" r="2.7" fill="#800880" fill-opacity="1"/>
<circle cx="209.0" cy="282.8" r="2.6" fill="#800880" fill-opacity="1"/>
<circle cx="235.8" cy="277.4" r="2.5" fill="#800880" fill-opacity="1"/>
</g>
<g filter="url(#db)">
<circle cx="205.7" cy="246.1" r="1.8" fill="#f01cf0" fill-opacity="1"/>
<circle cx="184.0" cy="248.8" r="1.2" fill="#f01cf0" fill-opacity="0.6"/>
<circle cx="193.3" cy="267.5" r="1.5" fill="#f01cf0" fill-opacity="0.9"/>
<circle cx="188.1" cy="279.0" r="2.0" fill="#f01cf0" fill-opacity="1"/>
<circle cx="209.0" cy="282.8" r="1.9" fill="#f01cf0" fill-opacity="1"/>
<circle cx="235.8" cy="277.4" r="1.8" fill="#f01cf0" fill-opacity="1"/>
</g>
</g>
<g clip-path="url(#pc10)">
<g filter="url(#db2)">
<circle cx="83.8" cy="314.4" r="1.9" fill="#108010" fill-opacity="0.9"/>
<circle cx="72.8" cy="335.6" r="1.8" fill="#108010" fill-opacity="0.45"/>
<circle cx="77.6" cy="352.5" r="1.9" fill="#108010" fill-opacity="0.95"/>
</g>
<g filter="url(#db)">
<circle cx="83.8" cy="314.4" r="1.2" fill="#22e022" fill-opacity="0.9"/>
<circle cx="72.8" cy="335.6" r="1.1" fill="#22e022" fill-opacity="0.45"/>
<circle cx="77.6" cy="352.5" r="1.2" fill="#22e022" fill-opacity="0.95"/>
</g>
</g>
<g clip-path="url(#pc11)">
<g filter="url(#db2)">
<circle cx="131.3" cy="307.3" r="2.7" fill="#0c800c" fill-opacity="1"/>
<circle cx="136.5" cy="312.9" r="3.1" fill="#0c800c" fill-opacity="1"/>
<circle cx="151.0" cy="310.6" r="3.6" fill="#0c800c" fill-opacity="1"/>
<circle cx="154.1" cy="304.1" r="1.8" fill="#0c800c" fill-opacity="0.6"/>
<circle cx="162.8" cy="317.2" r="2.4" fill="#0c800c" fill-opacity="0.95"/>
<circle cx="152.5" cy="325.1" r="3.9" fill="#0c800c" fill-opacity="1"/>
<circle cx="140.7" cy="332.6" r="2.2" fill="#0c800c" fill-opacity="0.9"/>
<circle cx="160.4" cy="346.0" r="3.6" fill="#0c800c" fill-opacity="1"/>
<circle cx="134.4" cy="352.6" r="2.8" fill="#0c800c" fill-opacity="1"/>
<circle cx="138.9" cy="359.7" r="3.1" fill="#0c800c" fill-opacity="1"/>
<circle cx="160.4" cy="330.2" r="1.7" fill="#0c800c" fill-opacity="0.3"/>
<circle cx="116.7" cy="326.9" r="1.7" fill="#0c800c" fill-opacity="0.25"/>
<circle cx="130.5" cy="351.3" r="1.5" fill="#0c800c" fill-opacity="0.6"/>
<circle cx="169.0" cy="312.2" r="1.6" fill="#0c800c" fill-opacity="0.25"/>
<circle cx="120.0" cy="340.2" r="1.7" fill="#0c800c" fill-opacity="0.2"/>
</g>
<g filter="url(#db)">
<circle cx="131.3" cy="307.3" r="2.0" fill="#22e022" fill-opacity="1"/>
<circle cx="136.5" cy="312.9" r="2.4" fill="#22e022" fill-opacity="1"/>
<ellipse cx="151.0" cy="310.6" rx="2.5" ry="3.2" fill="#22e022" fill-opacity="1"/>
<circle cx="154.1" cy="304.1" r="1.1" fill="#22e022" fill-opacity="0.6"/>
<circle cx="162.8" cy="317.2" r="1.7" fill="#22e022" fill-opacity="0.95"/>
<circle cx="152.5" cy="325.1" r="3.2" fill="#22e022" fill-opacity="1"/>
<ellipse cx="140.7" cy="332.6" rx="2.3" ry="1.1" transform="rotate(50 140.7 332.6)" fill="#22e022" fill-opacity="0.9"/>
<circle cx="160.4" cy="346.0" r="2.9" fill="#22e022" fill-opacity="1"/>
<circle cx="134.4" cy="352.6" r="2.1" fill="#22e022" fill-opacity="1"/>
<circle cx="138.9" cy="359.7" r="2.4" fill="#22e022" fill-opacity="1"/>
<circle cx="160.4" cy="330.2" r="1.0" fill="#22e022" fill-opacity="0.3"/>
<circle cx="116.7" cy="326.9" r="1.0" fill="#22e022" fill-opacity="0.25"/>
<circle cx="130.5" cy="351.3" r="0.8" fill="#22e022" fill-opacity="0.6"/>
<circle cx="169.0" cy="312.2" r="0.9" fill="#22e022" fill-opacity="0.25"/>
<circle cx="120.0" cy="340.2" r="1.0" fill="#22e022" fill-opacity="0.2"/>
</g>
</g>
<g clip-path="url(#pc12)">
<g filter="url(#db2)">
<circle cx="205.7" cy="310.7" r="2.5" fill="#0c800c" fill-opacity="1"/>
<circle cx="184.0" cy="313.4" r="1.9" fill="#0c800c" fill-opacity="0.6"/>
<circle cx="193.3" cy="332.1" r="2.2" fill="#0c800c" fill-opacity="0.9"/>
<circle cx="188.1" cy="343.6" r="2.7" fill="#0c800c" fill-opacity="1"/>
<circle cx="209.0" cy="347.4" r="2.6" fill="#0c800c" fill-opacity="1"/>
<circle cx="235.8" cy="342.0" r="2.5" fill="#0c800c" fill-opacity="1"/>
</g>
<g filter="url(#db)">
<circle cx="205.7" cy="310.7" r="1.8" fill="#22e022" fill-opacity="1"/>
<circle cx="184.0" cy="313.4" r="1.2" fill="#22e022" fill-opacity="0.6"/>
<circle cx="193.3" cy="332.1" r="1.5" fill="#22e022" fill-opacity="0.9"/>
<circle cx="188.1" cy="343.6" r="2.0" fill="#22e022" fill-opacity="1"/>
<circle cx="209.0" cy="347.4" r="1.9" fill="#22e022" fill-opacity="1"/>
<circle cx="235.8" cy="342.0" r="1.8" fill="#22e022" fill-opacity="1"/>
</g>
</g>
<g clip-path="url(#pc20)">
<g filter="url(#db2)">
<circle cx="83.8" cy="379.1" r="1.9" fill="#108010" fill-opacity="0.9"/>
<circle cx="72.8" cy="400.3" r="1.8" fill="#108010" fill-opacity="0.45"/>
<circle cx="77.6" cy="417.2" r="1.9" fill="#108010" fill-opacity="0.95"/>
</g>
<g filter="url(#db)">
<circle cx="83.8" cy="379.1" r="1.2" fill="#22e022" fill-opacity="0.9"/>
<circle cx="72.8" cy="400.3" r="1.1" fill="#22e022" fill-opacity="0.45"/>
<circle cx="77.6" cy="417.2" r="1.2" fill="#22e022" fill-opacity="0.95"/>
</g>
</g>
<g clip-path="url(#pc21)">
<g filter="url(#db2)">
<circle cx="131.3" cy="372.0" r="2.7" fill="#c050c0" fill-opacity="1"/>
<circle cx="136.5" cy="377.6" r="3.1" fill="#c050c0" fill-opacity="1"/>
<circle cx="151.0" cy="375.3" r="3.6" fill="#c050c0" fill-opacity="1"/>
<circle cx="154.1" cy="368.8" r="1.8" fill="#c050c0" fill-opacity="0.6"/>
<circle cx="162.8" cy="381.9" r="2.4" fill="#c050c0" fill-opacity="0.95"/>
<circle cx="152.5" cy="389.8" r="3.9" fill="#c050c0" fill-opacity="1"/>
<circle cx="140.7" cy="397.3" r="2.2" fill="#c050c0" fill-opacity="0.9"/>
<circle cx="160.4" cy="410.7" r="3.6" fill="#c050c0" fill-opacity="1"/>
<circle cx="134.4" cy="417.3" r="2.8" fill="#c050c0" fill-opacity="1"/>
<circle cx="138.9" cy="424.4" r="3.1" fill="#c050c0" fill-opacity="1"/>
<circle cx="160.4" cy="394.9" r="1.7" fill="#c050c0" fill-opacity="0.3"/>
<circle cx="116.7" cy="391.6" r="1.7" fill="#c050c0" fill-opacity="0.25"/>
<circle cx="130.5" cy="416.0" r="1.5" fill="#c050c0" fill-opacity="0.6"/>
<circle cx="169.0" cy="376.9" r="1.6" fill="#c050c0" fill-opacity="0.25"/>
<circle cx="120.0" cy="404.9" r="1.7" fill="#c050c0" fill-opacity="0.2"/>
</g>
<g filter="url(#db)">
<circle cx="131.3" cy="372.0" r="2.0" fill="#f090f0" fill-opacity="1"/>
<circle cx="136.5" cy="377.6" r="2.4" fill="#f090f0" fill-opacity="1"/>
<ellipse cx="151.0" cy="375.3" rx="2.5" ry="3.2" fill="#f090f0" fill-opacity="1"/>
<circle cx="154.1" cy="368.8" r="1.1" fill="#f090f0" fill-opacity="0.6"/>
<circle cx="162.8" cy="381.9" r="1.7" fill="#f090f0" fill-opacity="0.95"/>
<circle cx="152.5" cy="389.8" r="3.2" fill="#f090f0" fill-opacity="1"/>
<ellipse cx="140.7" cy="397.3" rx="2.3" ry="1.1" transform="rotate(50 140.7 397.3)" fill="#f090f0" fill-opacity="0.9"/>
<circle cx="160.4" cy="410.7" r="2.9" fill="#f090f0" fill-opacity="1"/>
<circle cx="134.4" cy="417.3" r="2.1" fill="#f090f0" fill-opacity="1"/>
<circle cx="138.9" cy="424.4" r="2.4" fill="#f090f0" fill-opacity="1"/>
<circle cx="160.4" cy="394.9" r="1.0" fill="#f090f0" fill-opacity="0.3"/>
<circle cx="116.7" cy="391.6" r="1.0" fill="#f090f0" fill-opacity="0.25"/>
<circle cx="130.5" cy="416.0" r="0.8" fill="#f090f0" fill-opacity="0.6"/>
<circle cx="169.0" cy="376.9" r="0.9" fill="#f090f0" fill-opacity="0.25"/>
<circle cx="120.0" cy="404.9" r="1.0" fill="#f090f0" fill-opacity="0.2"/>
</g>
<g filter="url(#db)">
<circle cx="131.3" cy="372.0" r="1.3" fill="#ffffff" fill-opacity="1"/>
<circle cx="136.5" cy="377.6" r="1.7" fill="#ffffff" fill-opacity="1"/>
<circle cx="151.0" cy="375.3" r="2.2" fill="#ffffff" fill-opacity="1"/>
<circle cx="154.1" cy="368.8" r="0.5" fill="#ffffff" fill-opacity="0.6"/>
<circle cx="162.8" cy="381.9" r="1.0" fill="#ffffff" fill-opacity="0.95"/>
<circle cx="152.5" cy="389.8" r="2.5" fill="#ffffff" fill-opacity="1"/>
<circle cx="140.7" cy="397.3" r="0.8" fill="#ffffff" fill-opacity="0.9"/>
<circle cx="160.4" cy="410.7" r="2.2" fill="#ffffff" fill-opacity="1"/>
<circle cx="134.4" cy="417.3" r="1.4" fill="#ffffff" fill-opacity="1"/>
<circle cx="138.9" cy="424.4" r="1.7" fill="#ffffff" fill-opacity="1"/>
<circle cx="130.5" cy="416.0" r="0.5" fill="#ffffff" fill-opacity="0.6"/>
</g>
</g>
<g clip-path="url(#pc22)">
<g filter="url(#db2)">
<circle cx="205.7" cy="375.4" r="2.5" fill="#909890" fill-opacity="1"/>
<circle cx="184.0" cy="378.1" r="1.9" fill="#909890" fill-opacity="0.6"/>
<circle cx="193.3" cy="396.8" r="2.2" fill="#909890" fill-opacity="0.9"/>
<circle cx="188.1" cy="408.3" r="2.7" fill="#909890" fill-opacity="1"/>
<circle cx="209.0" cy="412.1" r="2.6" fill="#909890" fill-opacity="1"/>
<circle cx="235.8" cy="406.7" r="2.5" fill="#909890" fill-opacity="1"/>
</g>
<g filter="url(#db)">
<circle cx="205.7" cy="375.4" r="1.8" fill="#ffffff" fill-opacity="1"/>
<circle cx="184.0" cy="378.1" r="1.2" fill="#ffffff" fill-opacity="0.6"/>
<circle cx="193.3" cy="396.8" r="1.5" fill="#ffffff" fill-opacity="0.9"/>
<circle cx="188.1" cy="408.3" r="2.0" fill="#ffffff" fill-opacity="1"/>
<circle cx="209.0" cy="412.1" r="1.9" fill="#ffffff" fill-opacity="1"/>
<circle cx="235.8" cy="406.7" r="1.8" fill="#ffffff" fill-opacity="1"/>
</g>
</g>
<g><polygon points="325.8,386.7 327.2,383.9 328.5,381.6 329.8,379.5 331.1,377.7 332.5,376.1 333.8,374.6 335.1,373.2 336.5,371.8 337.8,370.5 339.1,369.5 340.4,368.5 341.8,367.6 343.1,366.7 344.4,365.8 345.7,365.0 347.1,364.1 348.4,363.3 349.7,362.5 351.0,361.8 352.4,361.1 353.7,360.3 355.0,359.7 356.3,359.0 357.7,358.3 359.0,357.7 360.3,357.1 361.6,356.5 363.0,355.9 364.3,355.3 365.6,354.8 367.0,354.2 368.3,353.7 369.6,353.2 370.9,352.7 372.3,352.2 373.6,351.7 374.9,351.3 376.2,350.9 377.6,350.4 378.9,350.0 380.2,349.6 381.5,349.2 382.9,348.8 384.2,348.5 385.5,348.1 386.8,347.7 388.2,347.4 389.5,347.1 390.8,346.7 392.1,346.4 393.5,346.1 394.8,345.8 396.1,345.5 397.4,345.3 398.8,345.0 400.1,344.7 401.4,344.5 402.8,344.2 404.1,344.0 405.4,343.7 406.7,343.5 408.1,343.3 409.4,343.1 410.7,342.9 412.0,342.7 413.4,342.5 414.7,342.3 416.0,342.1 417.3,342.0 418.7,341.8 420.0,341.6 421.3,341.5 422.6,341.3 424.0,341.2 425.3,341.0 426.6,340.9 427.9,340.7 429.3,340.6 430.6,340.5 431.9,340.3 433.3,340.2 434.6,340.1 435.9,340.0 437.2,339.9 438.6,339.8 439.9,339.7 441.2,339.6 442.5,339.5 443.9,339.4 445.2,339.3 446.5,339.2 447.8,339.1 449.2,339.0 450.5,338.9 451.8,338.9 453.1,338.8 454.5,338.7 455.8,338.6 457.1,338.6 458.4,338.5 459.8,338.4 461.1,338.4 462.4,338.3 463.8,338.2 465.1,338.2 466.4,338.1 467.7,338.1 469.1,338.0 470.4,338.0 471.7,337.9 473.0,337.9 474.4,337.8 475.7,337.7 477.0,337.7 478.3,337.6 479.7,337.6 481.0,337.6 482.3,337.5 483.6,337.5 485.0,337.4 486.3,337.4 487.6,337.3 488.9,337.3 490.3,337.3 491.6,337.2 492.9,337.2 494.2,337.1 495.6,337.1 496.9,337.1 498.2,337.0 499.6,337.0 500.9,337.0 502.2,337.0 503.5,336.9 504.9,336.9 506.2,336.9 507.5,336.8 508.8,336.8 510.2,336.8 511.5,336.8 512.8,336.7 514.1,336.7 515.5,336.7 516.8,336.7 518.1,336.7 519.4,336.6 520.8,336.6 522.1,336.6 523.4,336.6 523.4,342.0 522.1,342.0 520.8,342.0 519.4,342.1 518.1,342.1 516.8,342.1 515.5,342.1 514.1,342.2 512.8,342.2 511.5,342.2 510.2,342.2 508.8,342.2 507.5,342.3 506.2,342.3 504.9,342.3 503.5,342.4 502.2,342.4 500.9,342.4 499.6,342.4 498.2,342.5 496.9,342.5 495.6,342.5 494.2,342.6 492.9,342.6 491.6,342.7 490.3,342.7 488.9,342.7 487.6,342.8 486.3,342.8 485.0,342.9 483.6,342.9 482.3,342.9 481.0,343.0 479.7,343.0 478.3,343.1 477.0,343.1 475.7,343.2 474.4,343.2 473.0,343.3 471.7,343.3 470.4,343.4 469.1,343.5 467.7,343.5 466.4,343.6 465.1,343.7 463.8,343.8 462.4,343.8 461.1,343.9 459.8,344.0 458.4,344.1 457.1,344.2 455.8,344.3 454.5,344.3 453.1,344.4 451.8,344.5 450.5,344.6 449.2,344.7 447.8,344.8 446.5,344.9 445.2,345.0 443.9,345.1 442.5,345.3 441.2,345.4 439.9,345.5 438.6,345.6 437.2,345.7 435.9,345.9 434.6,346.0 433.3,346.1 431.9,346.3 430.6,346.4 429.3,346.6 427.9,346.7 426.6,346.9 425.3,347.0 424.0,347.2 422.6,347.4 421.3,347.5 420.0,347.7 418.7,347.9 417.3,348.1 416.0,348.3 414.7,348.5 413.4,348.7 412.0,348.9 410.7,349.1 409.4,349.3 408.1,349.5 406.7,349.8 405.4,350.0 404.1,350.3 402.8,350.5 401.4,350.8 400.1,351.0 398.8,351.3 397.4,351.5 396.1,351.8 394.8,352.1 393.5,352.4 392.1,352.7 390.8,353.0 389.5,353.4 388.2,353.7 386.8,354.0 385.5,354.4 384.2,354.7 382.9,355.1 381.5,355.5 380.2,355.9 378.9,356.3 377.6,356.7 376.2,357.1 374.9,357.6 373.6,358.0 372.3,358.5 370.9,359.0 369.6,359.5 368.3,360.0 367.0,360.5 365.6,361.0 364.3,361.6 363.0,362.2 361.6,362.8 360.3,363.4 359.0,364.0 357.7,364.6 356.3,365.3 355.0,365.9 353.7,366.6 352.4,367.4 351.0,368.1 349.7,368.8 348.4,369.6 347.1,370.4 345.7,371.2 344.4,372.1 343.1,373.0 341.8,373.9 340.4,374.8 339.1,375.8 337.8,376.8 336.5,377.6 335.1,378.4 333.8,379.3 332.5,380.3 331.1,381.4 329.8,382.7 328.5,384.2 327.2,386.0 325.8,388.3" fill="#d4d4d4" fill-opacity="0.85"/><polygon points="325.8,383.9 327.2,381.6 328.5,379.5 329.8,377.4 331.1,375.4 332.5,373.4 333.8,371.6 335.1,369.7 336.5,368.0 337.8,366.3 339.1,364.9 340.4,363.5 341.8,362.3 343.1,361.0 344.4,359.8 345.7,358.7 347.1,357.5 348.4,356.5 349.7,355.4 351.0,354.4 352.4,353.5 353.7,352.5 355.0,351.6 356.3,350.7 357.7,349.9 359.0,349.1 360.3,348.3 361.6,347.5 363.0,346.8 364.3,346.1 365.6,345.4 367.0,344.7 368.3,344.1 369.6,343.4 370.9,342.8 372.3,342.2 373.6,341.6 374.9,341.1 376.2,340.5 377.6,340.0 378.9,339.5 380.2,339.0 381.5,338.5 382.9,338.0 384.2,337.6 385.5,337.1 386.8,336.7 388.2,336.3 389.5,335.9 390.8,335.5 392.1,335.1 393.5,334.7 394.8,334.3 396.1,334.0 397.4,333.6 398.8,333.2 400.1,332.9 401.4,332.6 402.8,332.3 404.1,331.9 405.4,331.6 406.7,331.4 408.1,331.1 409.4,330.8 410.7,330.5 412.0,330.3 413.4,330.0 414.7,329.8 416.0,329.5 417.3,329.3 418.7,329.0 420.0,328.8 421.3,328.6 422.6,328.4 424.0,328.1 425.3,327.9 426.6,327.7 427.9,327.5 429.3,327.3 430.6,327.1 431.9,326.9 433.3,326.7 434.6,326.6 435.9,326.4 437.2,326.2 438.6,326.0 439.9,325.9 441.2,325.7 442.5,325.5 443.9,325.4 445.2,325.2 446.5,325.0 447.8,324.9 449.2,324.7 450.5,324.6 451.8,324.4 453.1,324.3 454.5,324.1 455.8,324.0 457.1,323.9 458.4,323.7 459.8,323.6 461.1,323.5 462.4,323.3 463.8,323.2 465.1,323.1 466.4,323.0 467.7,322.9 469.1,322.7 470.4,322.6 471.7,322.5 473.0,322.4 474.4,322.2 475.7,322.1 477.0,322.0 478.3,321.9 479.7,321.7 481.0,321.6 482.3,321.5 483.6,321.4 485.0,321.3 486.3,321.2 487.6,321.1 488.9,321.0 490.3,320.8 491.6,320.7 492.9,320.6 494.2,320.5 495.6,320.4 496.9,320.3 498.2,320.2 499.6,320.1 500.9,320.0 502.2,319.9 503.5,319.9 504.9,319.8 506.2,319.7 507.5,319.6 508.8,319.5 510.2,319.4 511.5,319.3 512.8,319.2 514.1,319.1 515.5,319.1 516.8,319.0 518.1,318.9 519.4,318.8 520.8,318.7 522.1,318.6 523.4,318.6 523.4,323.4 522.1,323.5 520.8,323.6 519.4,323.7 518.1,323.7 516.8,323.8 515.5,323.9 514.1,324.0 512.8,324.1 511.5,324.2 510.2,324.3 508.8,324.3 507.5,324.4 506.2,324.5 504.9,324.6 503.5,324.7 502.2,324.8 500.9,324.9 499.6,325.0 498.2,325.1 496.9,325.2 495.6,325.3 494.2,325.4 492.9,325.5 491.6,325.6 490.3,325.7 488.9,325.8 487.6,325.9 486.3,326.0 485.0,326.1 483.6,326.3 482.3,326.4 481.0,326.5 479.7,326.6 478.3,326.7 477.0,326.8 475.7,327.0 474.4,327.1 473.0,327.2 471.7,327.3 470.4,327.5 469.1,327.6 467.7,327.8 466.4,327.9 465.1,328.1 463.8,328.2 462.4,328.4 461.1,328.5 459.8,328.7 458.4,328.9 457.1,329.0 455.8,329.2 454.5,329.4 453.1,329.5 451.8,329.7 450.5,329.9 449.2,330.1 447.8,330.2 446.5,330.4 445.2,330.6 443.9,330.8 442.5,331.0 441.2,331.2 439.9,331.4 438.6,331.6 437.2,331.8 435.9,332.0 434.6,332.2 433.3,332.4 431.9,332.6 430.6,332.8 429.3,333.1 427.9,333.3 426.6,333.5 425.3,333.8 424.0,334.0 422.6,334.3 421.3,334.5 420.0,334.8 418.7,335.0 417.3,335.3 416.0,335.6 414.7,335.8 413.4,336.1 412.0,336.4 410.7,336.7 409.4,337.0 408.1,337.3 406.7,337.6 405.4,337.9 404.1,338.2 402.8,338.5 401.4,338.9 400.1,339.2 398.8,339.5 397.4,339.9 396.1,340.2 394.8,340.6 393.5,341.0 392.1,341.4 390.8,341.8 389.5,342.2 388.2,342.6 386.8,343.0 385.5,343.4 384.2,343.9 382.9,344.3 381.5,344.8 380.2,345.3 378.9,345.8 377.6,346.3 376.2,346.8 374.9,347.4 373.6,347.9 372.3,348.5 370.9,349.1 369.6,349.7 368.3,350.4 367.0,351.0 365.6,351.7 364.3,352.4 363.0,353.1 361.6,353.8 360.3,354.6 359.0,355.4 357.7,356.2 356.3,357.0 355.0,357.9 353.7,358.8 352.4,359.7 351.0,360.7 349.7,361.7 348.4,362.8 347.1,363.8 345.7,364.9 344.4,366.1 343.1,367.3 341.8,368.5 340.4,369.8 339.1,371.2 337.8,372.6 336.5,373.7 335.1,375.0 333.8,376.3 332.5,377.6 331.1,379.0 329.8,380.5 328.5,382.1 327.2,383.7 325.8,385.4" fill="#d4d4d4" fill-opacity="0.85"/><polygon points="325.8,383.6 327.2,381.1 328.5,378.7 329.8,376.3 331.1,374.1 332.5,371.9 333.8,369.8 335.1,367.7 336.5,365.7 337.8,363.8 339.1,362.3 340.4,360.8 341.8,359.4 343.1,358.1 344.4,356.8 345.7,355.5 347.1,354.3 348.4,353.1 349.7,352.0 351.0,350.9 352.4,349.9 353.7,348.9 355.0,347.9 356.3,346.9 357.7,346.0 359.0,345.1 360.3,344.3 361.6,343.4 363.0,342.6 364.3,341.9 365.6,341.1 367.0,340.4 368.3,339.7 369.6,339.0 370.9,338.3 372.3,337.7 373.6,337.1 374.9,336.5 376.2,335.9 377.6,335.3 378.9,334.7 380.2,334.2 381.5,333.7 382.9,333.2 384.2,332.7 385.5,332.2 386.8,331.7 388.2,331.2 389.5,330.8 390.8,330.4 392.1,329.9 393.5,329.5 394.8,329.1 396.1,328.7 397.4,328.3 398.8,328.0 400.1,327.6 401.4,327.2 402.8,326.9 404.1,326.6 405.4,326.3 406.7,326.0 408.1,325.7 409.4,325.4 410.7,325.1 412.0,324.8 413.4,324.6 414.7,324.3 416.0,324.0 417.3,323.8 418.7,323.6 420.0,323.3 421.3,323.1 422.6,322.9 424.0,322.6 425.3,322.4 426.6,322.2 427.9,322.0 429.3,321.8 430.6,321.6 431.9,321.4 433.3,321.2 434.6,321.0 435.9,320.8 437.2,320.6 438.6,320.5 439.9,320.3 441.2,320.1 442.5,319.9 443.9,319.8 445.2,319.6 446.5,319.4 447.8,319.3 449.2,319.1 450.5,319.0 451.8,318.8 453.1,318.7 454.5,318.5 455.8,318.4 457.1,318.3 458.4,318.1 459.8,318.0 461.1,317.9 462.4,317.7 463.8,317.6 465.1,317.5 466.4,317.3 467.7,317.2 469.1,317.1 470.4,317.0 471.7,316.8 473.0,316.7 474.4,316.5 475.7,316.4 477.0,316.3 478.3,316.1 479.7,316.0 481.0,315.9 482.3,315.7 483.6,315.6 485.0,315.5 486.3,315.3 487.6,315.2 488.9,315.1 490.3,315.0 491.6,314.8 492.9,314.7 494.2,314.6 495.6,314.5 496.9,314.4 498.2,314.3 499.6,314.1 500.9,314.0 502.2,313.9 503.5,313.8 504.9,313.7 506.2,313.6 507.5,313.5 508.8,313.4 510.2,313.3 511.5,313.2 512.8,313.1 514.1,313.0 515.5,312.9 516.8,312.8 518.1,312.7 519.4,312.6 520.8,312.5 522.1,312.4 523.4,312.3 523.4,318.0 522.1,318.1 520.8,318.2 519.4,318.3 518.1,318.4 516.8,318.5 515.5,318.6 514.1,318.7 512.8,318.8 511.5,318.9 510.2,319.0 508.8,319.1 507.5,319.2 506.2,319.3 504.9,319.4 503.5,319.5 502.2,319.6 500.9,319.8 499.6,319.9 498.2,320.0 496.9,320.1 495.6,320.2 494.2,320.3 492.9,320.4 491.6,320.6 490.3,320.7 488.9,320.8 487.6,320.9 486.3,321.1 485.0,321.2 483.6,321.3 482.3,321.4 481.0,321.6 479.7,321.7 478.3,321.9 477.0,322.0 475.7,322.1 474.4,322.3 473.0,322.4 471.7,322.6 470.4,322.7 469.1,322.9 467.7,323.1 466.4,323.2 465.1,323.4 463.8,323.6 462.4,323.8 461.1,324.0 459.8,324.2 458.4,324.4 457.1,324.6 455.8,324.7 454.5,324.9 453.1,325.1 451.8,325.4 450.5,325.6 449.2,325.8 447.8,326.0 446.5,326.2 445.2,326.4 443.9,326.6 442.5,326.9 441.2,327.1 439.9,327.3 438.6,327.6 437.2,327.8 435.9,328.0 434.6,328.3 433.3,328.5 431.9,328.8 430.6,329.0 429.3,329.3 427.9,329.5 426.6,329.8 425.3,330.1 424.0,330.4 422.6,330.6 421.3,330.9 420.0,331.2 418.7,331.5 417.3,331.8 416.0,332.1 414.7,332.4 413.4,332.7 412.0,333.1 410.7,333.4 409.4,333.7 408.1,334.1 406.7,334.4 405.4,334.8 404.1,335.1 402.8,335.5 401.4,335.8 400.1,336.2 398.8,336.6 397.4,336.9 396.1,337.3 394.8,337.7 393.5,338.1 392.1,338.5 390.8,338.9 389.5,339.4 388.2,339.8 386.8,340.3 385.5,340.8 384.2,341.2 382.9,341.7 381.5,342.2 380.2,342.8 378.9,343.3 377.6,343.9 376.2,344.4 374.9,345.0 373.6,345.6 372.3,346.3 370.9,346.9 369.6,347.6 368.3,348.3 367.0,349.0 365.6,349.7 364.3,350.4 363.0,351.2 361.6,352.0 360.3,352.9 359.0,353.7 357.7,354.6 356.3,355.5 355.0,356.5 353.7,357.4 352.4,358.5 351.0,359.5 349.7,360.6 348.4,361.7 347.1,362.9 345.7,364.1 344.4,365.4 343.1,366.7 341.8,368.0 340.4,369.4 339.1,370.9 337.8,372.4 336.5,373.6 335.1,374.9 333.8,376.2 332.5,377.6 331.1,379.1 329.8,380.6 328.5,382.2 327.2,383.9 325.8,385.7" fill="#d4d4d4" fill-opacity="0.85"/><polygon points="325.8,380.8 327.2,378.4 328.5,376.1 329.8,373.8 331.1,371.5 332.5,369.3 333.8,367.1 335.1,365.0 336.5,362.9 337.8,360.8 339.1,359.2 340.4,357.7 341.8,356.1 343.1,354.6 344.4,353.2 345.7,351.8 347.1,350.4 348.4,349.0 349.7,347.7 351.0,346.4 352.4,345.1 353.7,343.8 355.0,342.6 356.3,341.4 357.7,340.2 359.0,339.1 360.3,338.0 361.6,336.9 363.0,335.8 364.3,334.8 365.6,333.7 367.0,332.7 368.3,331.8 369.6,330.8 370.9,329.9 372.3,329.0 373.6,328.1 374.9,327.2 376.2,326.3 377.6,325.5 378.9,324.7 380.2,323.9 381.5,323.1 382.9,322.3 384.2,321.6 385.5,320.8 386.8,320.1 388.2,319.4 389.5,318.7 390.8,318.0 392.1,317.4 393.5,316.7 394.8,316.1 396.1,315.5 397.4,314.9 398.8,314.3 400.1,313.7 401.4,313.1 402.8,312.6 404.1,312.1 405.4,311.6 406.7,311.1 408.1,310.6 409.4,310.2 410.7,309.7 412.0,309.3 413.4,308.8 414.7,308.4 416.0,308.0 417.3,307.6 418.7,307.2 420.0,306.9 421.3,306.5 422.6,306.1 424.0,305.8 425.3,305.4 426.6,305.1 427.9,304.8 429.3,304.4 430.6,304.1 431.9,303.8 433.3,303.5 434.6,303.2 435.9,303.0 437.2,302.7 438.6,302.4 439.9,302.1 441.2,301.9 442.5,301.6 443.9,301.4 445.2,301.1 446.5,300.9 447.8,300.7 449.2,300.5 450.5,300.2 451.8,300.0 453.1,299.8 454.5,299.6 455.8,299.4 457.1,299.2 458.4,299.0 459.8,298.8 461.1,298.7 462.4,298.5 463.8,298.3 465.1,298.1 466.4,298.0 467.7,297.8 469.1,297.7 470.4,297.5 471.7,297.3 473.0,297.2 474.4,297.0 475.7,296.8 477.0,296.6 478.3,296.5 479.7,296.3 481.0,296.1 482.3,296.0 483.6,295.8 485.0,295.6 486.3,295.5 487.6,295.3 488.9,295.2 490.3,295.1 491.6,294.9 492.9,294.8 494.2,294.6 495.6,294.5 496.9,294.4 498.2,294.3 499.6,294.1 500.9,294.0 502.2,293.9 503.5,293.8 504.9,293.7 506.2,293.5 507.5,293.4 508.8,293.3 510.2,293.2 511.5,293.1 512.8,293.0 514.1,292.9 515.5,292.8 516.8,292.7 518.1,292.6 519.4,292.5 520.8,292.4 522.1,292.3 523.4,292.2 523.4,298.5 522.1,298.6 520.8,298.7 519.4,298.8 518.1,298.9 516.8,299.0 515.5,299.1 514.1,299.2 512.8,299.3 511.5,299.4 510.2,299.5 508.8,299.6 507.5,299.7 506.2,299.8 504.9,299.9 503.5,300.1 502.2,300.2 500.9,300.3 499.6,300.4 498.2,300.5 496.9,300.7 495.6,300.8 494.2,300.9 492.9,301.1 491.6,301.2 490.3,301.4 488.9,301.5 487.6,301.6 486.3,301.8 485.0,301.9 483.6,302.1 482.3,302.3 481.0,302.4 479.7,302.6 478.3,302.7 477.0,302.9 475.7,303.1 474.4,303.3 473.0,303.4 471.7,303.6 470.4,303.8 469.1,304.0 467.7,304.3 466.4,304.5 465.1,304.8 463.8,305.0 462.4,305.3 461.1,305.5 459.8,305.8 458.4,306.0 457.1,306.3 455.8,306.6 454.5,306.9 453.1,307.1 451.8,307.4 450.5,307.7 449.2,308.0 447.8,308.3 446.5,308.6 445.2,309.0 443.9,309.3 442.5,309.6 441.2,309.9 439.9,310.3 438.6,310.6 437.2,311.0 435.9,311.3 434.6,311.7 433.3,312.1 431.9,312.4 430.6,312.8 429.3,313.2 427.9,313.6 426.6,314.0 425.3,314.4 424.0,314.9 422.6,315.3 421.3,315.7 420.0,316.2 418.7,316.7 417.3,317.1 416.0,317.6 414.7,318.1 413.4,318.6 412.0,319.1 410.7,319.6 409.4,320.1 408.1,320.7 406.7,321.2 405.4,321.8 404.1,322.3 402.8,322.9 401.4,323.4 400.1,324.0 398.8,324.6 397.4,325.2 396.1,325.8 394.8,326.4 393.5,327.0 392.1,327.7 390.8,328.3 389.5,329.0 388.2,329.7 386.8,330.4 385.5,331.1 384.2,331.9 382.9,332.6 381.5,333.4 380.2,334.2 378.9,335.0 377.6,335.8 376.2,336.6 374.9,337.5 373.6,338.4 372.3,339.3 370.9,340.2 369.6,341.1 368.3,342.1 367.0,343.0 365.6,344.0 364.3,345.1 363.0,346.1 361.6,347.2 360.3,348.3 359.0,349.4 357.7,350.5 356.3,351.7 355.0,352.9 353.7,354.1 352.4,355.4 351.0,356.7 349.7,358.0 348.4,359.3 347.1,360.7 345.7,362.1 344.4,363.5 343.1,364.9 341.8,366.4 340.4,368.0 339.1,369.5 337.8,371.1 336.5,372.3 335.1,373.6 333.8,374.8 332.5,376.2 331.1,377.5 329.8,378.9 328.5,380.3 327.2,381.8 325.8,383.4" fill="#d4d4d4" fill-opacity="0.85"/></g>
<polyline points="325.8,382.1 327.2,380.1 328.5,378.2 329.8,376.3 331.1,374.5 332.5,372.7 333.8,371.0 335.1,369.3 336.5,367.6 337.8,366.0 339.1,364.4 340.4,362.5 341.8,361.2 343.1,360.1 344.4,358.0 345.7,357.2 347.1,355.6 348.4,354.0 349.7,352.7 351.0,351.5 352.4,350.1 353.7,349.0 355.0,347.9 356.3,346.8 357.7,345.7 359.0,344.1 360.3,342.9 361.6,342.0 363.0,340.8 364.3,340.0 365.6,339.1 367.0,338.0 368.3,336.7 369.6,336.3 370.9,335.0 372.3,334.3 373.6,333.0 374.9,332.4 376.2,331.6 377.6,330.7 378.9,329.8 380.2,328.8 381.5,328.3 382.9,327.2 384.2,327.0 385.5,326.1 386.8,325.5 388.2,324.8 389.5,323.7 390.8,323.0 392.1,322.8 393.5,322.1 394.8,321.3 396.1,320.5 397.4,319.8 398.8,319.3 400.1,318.8 401.4,318.5 402.8,317.8 404.1,317.4 405.4,316.7 406.7,316.1 408.1,315.9 409.4,315.3 410.7,314.5 412.0,314.5 413.4,313.5 414.7,313.0 416.0,312.5 417.3,312.5 418.7,311.9 420.0,311.5 421.3,311.0 422.6,310.4 424.0,310.2 425.3,310.1 426.6,309.3 427.9,309.2 429.3,308.8 430.6,308.3 431.9,308.5 433.3,307.6 434.6,307.3 435.9,307.1 437.2,306.8 438.6,306.5 439.9,306.4 441.2,305.9 442.5,305.9 443.9,305.3 445.2,304.9 446.5,304.8 447.8,304.5 449.2,303.9 450.5,303.7 451.8,304.0 453.1,303.3 454.5,303.1 455.8,303.3 457.1,302.9 458.4,302.7 459.8,302.6 461.1,302.1 462.4,301.6 463.8,301.8 465.1,301.2 466.4,301.1 467.7,301.3 469.1,300.6 470.4,300.6 471.7,300.2 473.0,300.1 474.4,299.9 475.7,300.1 477.0,299.5 478.3,299.3 479.7,299.2 481.0,299.3 482.3,298.9 483.6,299.0 485.0,299.1 486.3,299.0 487.6,298.8 488.9,298.6 490.3,298.4 491.6,298.1 492.9,297.8 494.2,297.8 495.6,297.7 496.9,297.4 498.2,297.5 499.6,297.3 500.9,297.0 502.2,297.1 503.5,297.1 504.9,296.5 506.2,296.5 507.5,296.7 508.8,296.6 510.2,296.3 511.5,296.2 512.8,296.3 514.1,296.4 515.5,296.1 516.8,295.6 518.1,296.0 519.4,295.7 520.8,295.8 522.1,295.7 523.4,295.6" fill="none" stroke="#f08224" stroke-width="2.6" stroke-linejoin="round"/>
<polyline points="325.8,384.6 327.2,382.5 328.5,380.4 329.8,378.5 331.1,376.6 332.5,374.7 333.8,373.0 335.1,371.3 336.5,369.7 337.8,368.1 339.1,366.6 340.4,364.9 341.8,364.0 343.1,362.1 344.4,360.9 345.7,359.6 347.1,358.3 348.4,357.4 349.7,356.1 351.0,355.5 352.4,354.0 353.7,353.1 355.0,352.0 356.3,351.5 357.7,350.1 359.0,349.1 360.3,348.9 361.6,347.9 363.0,346.9 364.3,345.9 365.6,345.6 367.0,344.9 368.3,344.1 369.6,343.2 370.9,342.4 372.3,342.0 373.6,341.4 374.9,340.8 376.2,340.3 377.6,339.6 378.9,339.3 380.2,338.5 381.5,337.6 382.9,337.5 384.2,336.8 385.5,336.7 386.8,335.9 388.2,335.4 389.5,335.0 390.8,334.6 392.1,334.2 393.5,333.7 394.8,333.1 396.1,333.3 397.4,332.9 398.8,332.1 400.1,331.6 401.4,331.5 402.8,331.2 404.1,330.7 405.4,330.7 406.7,330.4 408.1,330.1 409.4,329.5 410.7,329.4 412.0,329.1 413.4,328.5 414.7,328.0 416.0,328.2 417.3,327.7 418.7,327.6 420.0,327.0 421.3,326.9 422.6,326.9 424.0,326.7 425.3,326.6 426.6,326.0 427.9,325.9 429.3,325.8 430.6,325.4 431.9,325.2 433.3,324.7 434.6,324.9 435.9,324.1 437.2,324.2 438.6,323.9 439.9,323.8 441.2,323.4 442.5,323.2 443.9,323.2 445.2,323.0 446.5,322.7 447.8,322.4 449.2,322.5 450.5,322.1 451.8,321.8 453.1,321.9 454.5,321.9 455.8,321.8 457.1,321.2 458.4,321.1 459.8,320.7 461.1,320.7 462.4,320.9 463.8,320.8 465.1,320.6 466.4,320.5 467.7,320.0 469.1,319.7 470.4,319.6 471.7,319.9 473.0,319.3 474.4,319.5 475.7,319.3 477.0,319.0 478.3,319.3 479.7,319.1 481.0,318.5 482.3,318.7 483.6,318.6 485.0,318.3 486.3,318.1 487.6,318.4 488.9,318.1 490.3,317.9 491.6,317.7 492.9,317.8 494.2,317.4 495.6,317.0 496.9,317.3 498.2,317.1 499.6,317.3 500.9,317.1 502.2,316.7 503.5,317.0 504.9,316.3 506.2,316.2 507.5,316.6 508.8,315.9 510.2,316.2 511.5,315.8 512.8,315.8 514.1,316.0 515.5,315.6 516.8,315.5 518.1,315.3 519.4,315.6 520.8,315.2 522.1,314.9 523.4,315.0" fill="none" stroke="#a855d8" stroke-width="2.6" stroke-linejoin="round"/>
<polyline points="325.8,384.6 327.2,382.7 328.5,380.8 329.8,379.0 331.1,377.2 332.5,375.5 333.8,373.9 335.1,372.4 336.5,370.9 337.8,369.4 339.1,368.0 340.4,366.7 341.8,365.6 343.1,364.4 344.4,362.9 345.7,362.0 347.1,360.5 348.4,359.4 349.7,358.8 351.0,357.7 352.4,356.4 353.7,355.6 355.0,354.5 356.3,354.0 357.7,353.3 359.0,352.4 360.3,351.2 361.6,350.8 363.0,350.0 364.3,349.3 365.6,348.6 367.0,347.9 368.3,346.9 369.6,346.8 370.9,346.3 372.3,345.0 373.6,344.5 374.9,343.9 376.2,343.7 377.6,342.8 378.9,342.3 380.2,342.3 381.5,341.5 382.9,340.9 384.2,340.6 385.5,340.3 386.8,340.0 388.2,339.5 389.5,339.2 390.8,338.9 392.1,338.2 393.5,338.0 394.8,337.2 396.1,337.4 397.4,336.5 398.8,336.3 400.1,335.8 401.4,335.4 402.8,335.1 404.1,335.0 405.4,335.1 406.7,334.3 408.1,334.4 409.4,334.0 410.7,333.5 412.0,333.3 413.4,333.1 414.7,332.5 416.0,332.5 417.3,332.4 418.7,332.2 420.0,331.5 421.3,331.6 422.6,331.1 424.0,331.2 425.3,331.1 426.6,330.6 427.9,330.2 429.3,330.4 430.6,329.8 431.9,329.5 433.3,329.4 434.6,329.1 435.9,329.5 437.2,328.9 438.6,328.5 439.9,328.9 441.2,328.6 442.5,328.4 443.9,328.1 445.2,328.0 446.5,327.7 447.8,327.4 449.2,327.7 450.5,327.5 451.8,327.3 453.1,327.2 454.5,327.1 455.8,326.3 457.1,326.2 458.4,326.6 459.8,326.1 461.1,326.1 462.4,326.0 463.8,325.8 465.1,325.5 466.4,325.4 467.7,325.4 469.1,325.4 470.4,325.2 471.7,325.2 473.0,324.7 474.4,324.5 475.7,324.6 477.0,324.7 478.3,324.5 479.7,324.3 481.0,324.0 482.3,323.7 483.6,323.9 485.0,323.5 486.3,323.5 487.6,323.5 488.9,323.5 490.3,323.3 491.6,323.0 492.9,323.1 494.2,322.8 495.6,322.9 496.9,322.9 498.2,322.6 499.6,322.4 500.9,322.8 502.2,322.4 503.5,322.3 504.9,321.9 506.2,321.8 507.5,322.1 508.8,321.6 510.2,321.6 511.5,321.9 512.8,321.7 514.1,321.8 515.5,321.3 516.8,321.3 518.1,321.0 519.4,321.0 520.8,321.0 522.1,320.9 523.4,321.0" fill="none" stroke="#6fb544" stroke-width="2.6" stroke-linejoin="round"/>
<polyline points="298.0,244.5 325.6,387.5 325.8,387.5 327.2,384.9 328.5,382.9 329.8,381.1 331.1,379.6 332.5,378.2 333.8,377.0 335.1,375.8 336.5,374.7 337.8,373.6 339.1,372.6 340.4,371.7 341.8,370.5 343.1,369.8 344.4,368.8 345.7,368.3 347.1,367.2 348.4,366.2 349.7,365.7 351.0,364.8 352.4,364.1 353.7,363.8 355.0,362.6 356.3,362.1 357.7,361.6 359.0,361.2 360.3,360.0 361.6,359.6 363.0,358.9 364.3,358.2 365.6,357.8 367.0,357.1 368.3,356.9 369.6,356.1 370.9,355.9 372.3,355.0 373.6,354.6 374.9,354.7 376.2,354.3 377.6,353.8 378.9,352.8 380.2,352.8 381.5,352.3 382.9,352.1 384.2,351.6 385.5,351.3 386.8,351.0 388.2,350.5 389.5,350.2 390.8,349.6 392.1,349.4 393.5,349.0 394.8,348.7 396.1,348.3 397.4,348.3 398.8,348.4 400.1,347.6 401.4,347.3 402.8,347.1 404.1,347.1 405.4,346.7 406.7,346.9 408.1,346.2 409.4,346.2 410.7,346.1 412.0,346.1 413.4,345.3 414.7,345.0 416.0,345.5 417.3,344.8 418.7,344.9 420.0,344.9 421.3,344.6 422.6,344.1 424.0,343.9 425.3,344.3 426.6,343.8 427.9,344.1 429.3,343.4 430.6,343.6 431.9,343.0 433.3,342.8 434.6,343.1 435.9,342.6 437.2,342.9 438.6,343.0 439.9,342.5 441.2,342.8 442.5,342.6 443.9,342.3 445.2,342.1 446.5,342.3 447.8,342.3 449.2,341.6 450.5,341.9 451.8,341.4 453.1,341.3 454.5,341.6 455.8,341.5 457.1,341.3 458.4,341.2 459.8,341.1 461.1,341.1 462.4,341.0 463.8,340.7 465.1,340.9 466.4,340.9 467.7,340.7 469.1,340.9 470.4,340.8 471.7,340.3 473.0,340.6 474.4,340.5 475.7,340.8 477.0,340.5 478.3,340.3 479.7,340.7 481.0,340.2 482.3,340.1 483.6,340.5 485.0,340.0 486.3,340.1 487.6,339.9 488.9,340.1 490.3,339.8 491.6,339.8 492.9,340.2 494.2,340.2 495.6,339.7 496.9,339.5 498.2,339.9 499.6,339.8 500.9,339.6 502.2,339.8 503.5,339.7 504.9,339.7 506.2,339.7 507.5,339.5 508.8,339.7 510.2,339.6 511.5,339.3 512.8,339.8 514.1,339.4 515.5,339.2 516.8,339.5 518.1,339.6 519.4,339.1 520.8,339.5 522.1,339.5 523.4,339.3" fill="none" stroke="#4a94ea" stroke-width="2.6" stroke-linejoin="round"/>
<g stroke="#2b2b2b" stroke-width="1" fill="none">
<path d="M298.0 244.5 V387.5"/>
<path d="M289.3 387.5 H536.7"/>
<path d="M289.3 358.9 H298.0"/>
<path d="M289.3 330.3 H298.0"/>
<path d="M289.3 301.7 H298.0"/>
<path d="M289.3 273.1 H298.0"/>
<path d="M289.3 244.5 H298.0"/>
<path d="M298.0 387.5 V396"/>
<path d="M324.5 387.5 V396"/>
<path d="M351.0 387.5 V396"/>
<path d="M377.6 387.5 V396"/>
<path d="M404.1 387.5 V396"/>
<path d="M430.6 387.5 V396"/>
<path d="M457.1 387.5 V396"/>
<path d="M483.6 387.5 V396"/>
<path d="M510.2 387.5 V396"/>
<path d="M536.7 387.5 V396"/>
</g>
<g font-size="10.5" fill="#1a1a1a">
<g text-anchor="end">
<text x="284.6" y="391.2">0.0</text>
<text x="284.6" y="362.6">0.2</text>
<text x="284.6" y="334.0">0.4</text>
<text x="284.6" y="305.4">0.6</text>
<text x="284.6" y="276.8">0.8</text>
<text x="284.6" y="248.2">1.0</text>
</g><g text-anchor="middle">
<text x="297.4" y="410">0</text>
<text x="323.9" y="410">100</text>
<text x="350.4" y="410">200</text>
<text x="377.0" y="410">300</text>
<text x="403.5" y="410">400</text>
<text x="430.0" y="410">500</text>
<text x="456.5" y="410">600</text>
<text x="483.0" y="410">700</text>
<text x="509.6" y="410">800</text>
<text x="536.1" y="410">900</text>
</g></g>
<text x="417.3" y="423.7" font-size="10.9" fill="#1a1a1a" text-anchor="middle">Time (s)</text>
<text transform="translate(262.9 316.6) rotate(-90)" font-size="11.1" fill="#1a1a1a" text-anchor="middle">Normalized intensity</text>
<text x="349.8" y="220.7" font-size="11" fill="#1a1a1a">EB1 &amp; +TIPs FRAP</text>
<path d="M389.6 240.2 H413" stroke="#4a94ea" stroke-width="1.9"/>
<text x="428" y="243.5" font-size="11" fill="#1a1a1a">EB1-WT</text>
<path d="M389.6 254.2 H413" stroke="#f08224" stroke-width="1.9"/>
<text x="428" y="257.6" font-size="11" fill="#1a1a1a">EB1+MCAK</text>
<path d="M389.6 268.3 H413" stroke="#6fb544" stroke-width="1.9"/>
<text x="428" y="271.7" font-size="11" fill="#1a1a1a">EB1+TIP150</text>
<path d="M389.6 282.4 H413" stroke="#a855d8" stroke-width="1.9"/>
<text x="428" y="285.9" font-size="11" fill="#1a1a1a">EB1+TIP150+MCAK</text>
</svg>
</body></html>
